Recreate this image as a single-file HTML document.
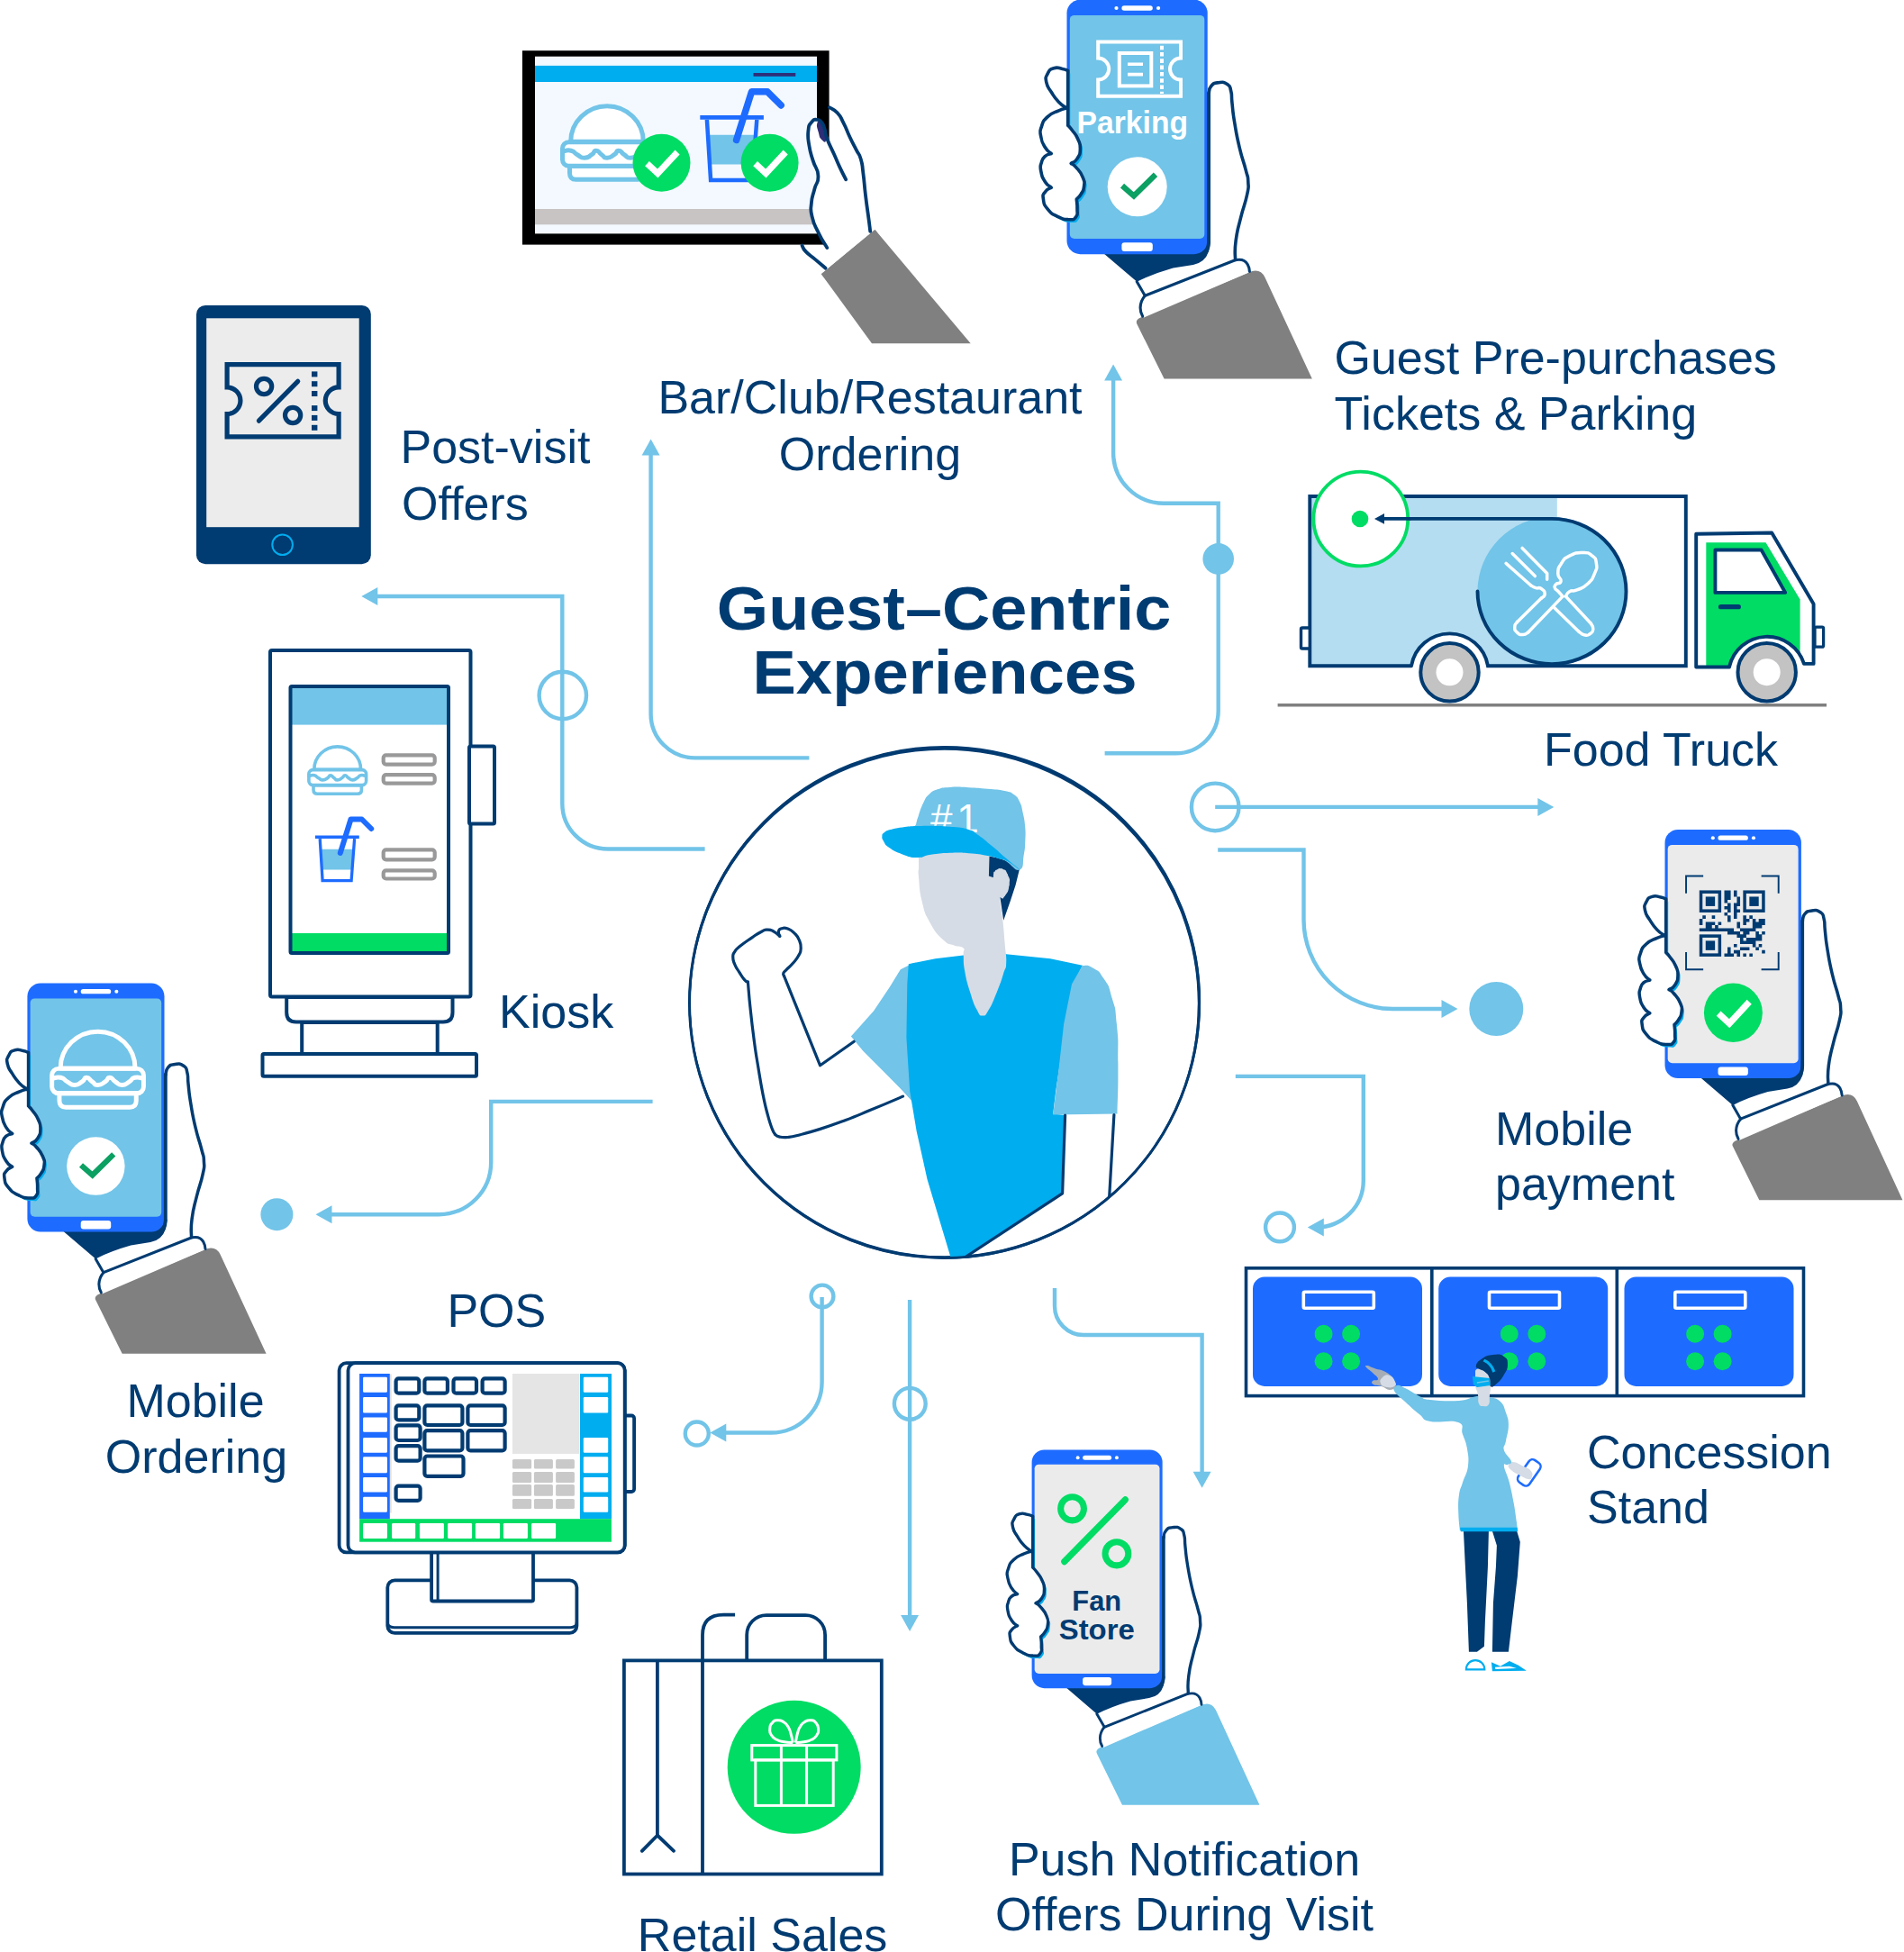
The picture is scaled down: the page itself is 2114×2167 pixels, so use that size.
<!DOCTYPE html>
<html><head><meta charset="utf-8"><title>Guest-Centric Experiences</title>
<style>
html,body{margin:0;padding:0;background:#fff;overflow:hidden;}
svg{display:block;}
text{font-family:"Liberation Sans",sans-serif;}
.lbl{font-size:52px;fill:#003B71;}
.ttl{font-size:69px;font-weight:bold;fill:#003B71;}
.cl{fill:none;stroke:#72C4E8;stroke-width:4.4;}
.nv{fill:none;stroke:#003B71;stroke-width:3.5;stroke-linejoin:round;stroke-linecap:round;}
</style></head><body>
<svg width="2114" height="2167" viewBox="0 0 2114 2167">
<g class="cl">
<path d="M415 662 H624.3 V891.9 A50.6 50.6 0 0 0 674.9 942.5 H782.6"/>
<circle cx="624.8" cy="772" r="26.2"/>
<path d="M722.6 500 V792.4 A49 49 0 0 0 771.6 841.4 H898.4"/>
<path d="M1236.1 418 V502.7 A56 56 0 0 0 1292.1 558.7 H1352.7 V789 A47.3 47.3 0 0 1 1305.4 836.3 H1226.6"/>
<path d="M1349.2 895.9 H1712"/>
<circle cx="1349.2" cy="895.9" r="26.3"/>
<path d="M1352.2 943.5 H1447.5 V1021 A99 99 0 0 0 1546.5 1120 H1605"/>
<path d="M1371.8 1194.9 H1513.8 V1310.4 A52 52 0 0 1 1461.8 1362.4"/>
<circle cx="1421" cy="1362.4" r="15.9"/>
<path d="M1171 1430 V1450 A32 32 0 0 0 1203 1482 H1334.6 V1637"/>
<path d="M1010.1 1443 V1797"/>
<circle cx="1010.3" cy="1558.3" r="17.4"/>
<path d="M912.6 1440 V1534 A56.5 56.5 0 0 1 856.1 1590.5 H802"/>
<circle cx="913" cy="1439" r="12.4"/>
<circle cx="773.8" cy="1591.5" r="13"/>
<path d="M724.6 1222.9 H545.2 V1290.2 A58 58 0 0 1 487.2 1348.2 H366"/>
</g>
<polygon points="401.3,662 419.3,652 419.3,672" fill="#72C4E8"/>
<polygon points="722.6,487.4 712.6,505.4 732.6,505.4" fill="#72C4E8"/>
<polygon points="1236.1,404.6 1226.1,422.6 1246.1,422.6" fill="#72C4E8"/>
<polygon points="1725.3,895.9 1707.3,885.9 1707.3,905.9" fill="#72C4E8"/>
<polygon points="1618.5,1120 1600.5,1110 1600.5,1130" fill="#72C4E8"/>
<polygon points="1451.8,1362.4 1469.8,1352.4 1469.8,1372.4" fill="#72C4E8"/>
<polygon points="1334.6,1651.8 1324.6,1633.8 1344.6,1633.8" fill="#72C4E8"/>
<polygon points="1010.1,1810.9 1000.1,1792.9 1020.1,1792.9" fill="#72C4E8"/>
<polygon points="788.3,1590.5 806.3,1580.5 806.3,1600.5" fill="#72C4E8"/>
<polygon points="350.5,1348.2 368.5,1338.2 368.5,1358.2" fill="#72C4E8"/>
<circle cx="1352.7" cy="620.4" r="17.3" fill="#72C4E8"/>
<circle cx="1661.3" cy="1120" r="30" fill="#72C4E8"/>
<circle cx="307.4" cy="1348.2" r="18" fill="#72C4E8"/>
<text class="lbl" x="444.5" y="514.2" text-anchor="start">Post-visit</text>
<text class="lbl" x="446" y="576.7" text-anchor="start">Offers</text>
<text class="lbl" x="966" y="459" text-anchor="middle">Bar/Club/Restaurant</text>
<text class="lbl" x="966" y="521.5" text-anchor="middle">Ordering</text>
<text class="lbl" x="1481.5" y="414.5" text-anchor="start">Guest Pre-purchases</text>
<text class="lbl" x="1481.5" y="477" text-anchor="start">Tickets &amp; Parking</text>
<text class="lbl" x="1714" y="850.3" text-anchor="start">Food Truck</text>
<text class="lbl" x="554" y="1141" text-anchor="start">Kiosk</text>
<text class="lbl" x="1660" y="1271" text-anchor="start">Mobile</text>
<text class="lbl" x="1660" y="1331.7" text-anchor="start">payment</text>
<text class="lbl" x="1762" y="1629.6" text-anchor="start">Concession</text>
<text class="lbl" x="1762" y="1690.8" text-anchor="start">Stand</text>
<text class="lbl" x="1315" y="2081.9" text-anchor="middle">Push Notification</text>
<text class="lbl" x="1315" y="2142.8" text-anchor="middle">Offers During Visit</text>
<text class="lbl" x="846.6" y="2166.4" text-anchor="middle">Retail Sales</text>
<text class="lbl" x="551.3" y="1473.2" text-anchor="middle">POS</text>
<text class="lbl" x="217" y="1573" text-anchor="middle">Mobile</text>
<text class="lbl" x="218" y="1634.8" text-anchor="middle">Ordering</text>
<text class="ttl" x="1048" y="698.5" text-anchor="middle" textLength="504.5" lengthAdjust="spacingAndGlyphs">Guest–Centric</text>
<text class="ttl" x="1049" y="770" text-anchor="middle" textLength="427" lengthAdjust="spacingAndGlyphs">Experiences</text>
<circle cx="1048.5" cy="1113.2" r="283" fill="#fff" stroke="#003B71" stroke-width="3"/>
<circle cx="1048.8" cy="1112.2" r="283.2" fill="none" stroke="#003B71" stroke-width="2.2"/>
<circle cx="1048.3" cy="1114.2" r="282.6" fill="none" stroke="#003B71" stroke-width="2.2"/>
<clipPath id="cc"><circle cx="1048.5" cy="1113.2" r="282"/></clipPath>
<g clip-path="url(#cc)">
<path d="M1014.7 1068.8 L999.8 1076.2 L988 1095.5 L970.1 1122.2 L944.9 1150.5 L958.3 1166.8 L982 1190.6 L999.8 1208.4 L1014.7 1224.7 L1014.7 1151.9 L1014.7 1092.5Z" fill="#72C4E8"/>
<path d="M1008.8 1070.2 L1038.5 1064.3 L1069.7 1060.4 L1117.2 1059.3 L1166.2 1064.3 L1201.9 1071.7 L1191.5 1092.5 L1181.1 1151.9 L1172.2 1211.4 L1169.2 1236.6 L1182.6 1238.1 L1179.6 1324.3 L1077.1 1392.6 L1056.3 1398.5 L1047.4 1368.8 L1029.6 1309.4 L1017.7 1255.9 L1010.2 1211.4 L1006.4 1151.9 L1007.3 1092.5Z" fill="#00ADEF"/>
<path d="M1201.9 1071.7 C1205.8 1072.7 1205.8 1069.7 1213.7 1074.7 C1221.7 1079.7 1218.7 1075.7 1225.6 1086.6 C1232.6 1097.5 1229.8 1090.5 1234.5 1107.4 C1239.3 1124.2 1237.6 1112.3 1239.9 1137.1 C1242.2 1161.8 1241.2 1148.5 1241.4 1181.7 C1241.6 1214.8 1240.8 1218.3 1240.5 1236.6 L1169.2 1237.5 L1175.1 1190.6 L1181.1 1137.1 L1190 1092.5Z" fill="#72C4E8"/>
<path d="M1020 964.8 C1020 967.2 1019.1 964.2 1020 973.7 C1021 983.2 1020.3 987 1023.6 1000.4 C1026.9 1013.9 1026.2 1012.7 1032.5 1024.2 C1038.9 1035.7 1040.2 1036.8 1047.4 1043.5 C1054.5 1050.2 1053.3 1047.1 1059.3 1049.4 C1065.2 1051.8 1066.9 1049.6 1069.7 1052.4 C1072.4 1055.2 1069.3 1053.1 1069.7 1059.8 C1070.1 1066.6 1069.2 1066.6 1071.1 1077.7 C1073.1 1088.8 1073.5 1090 1077.1 1101.4 C1080.7 1112.9 1080.8 1113.8 1084.5 1120.7 C1088.2 1127.7 1087.5 1127.6 1091.1 1127.6 C1094.6 1127.6 1093.7 1127.7 1097.9 1120.7 C1102.1 1113.8 1102.4 1112.1 1106.8 1101.4 C1111.2 1090.7 1111.5 1089.4 1114.2 1080.6 C1117 1071.9 1116.8 1077.5 1117.2 1068.8 C1117.6 1060 1116.7 1060.6 1115.7 1048 C1114.7 1035.3 1114.8 1035.1 1113.3 1021.2 C1111.9 1007.4 1109.7 1003.1 1110.4 996 C1111 988.8 1113.1 998.1 1115.7 994.5 C1118.3 990.9 1119.4 988.9 1120.2 982.6 C1121 976.3 1120.7 975.5 1118.7 970.7 C1116.7 966 1116.3 966 1112.7 964.8 C1109.2 963.6 1108.1 964.3 1105.3 966.3 C1102.5 968.2 1103.9 971 1102.3 972.2 C1100.8 973.4 1100.2 971.1 1099.4 970.7 L1098.5 938 L1020 938 Z" fill="#D5DCE5"/>
<path d="M1098.5 950.5 L1106.8 952.3 L1118.7 955.9 L1132 964.8 L1127.6 982.6 L1121.7 1000.4 L1114.2 1021.8 L1110.4 996 L1115.7 994.5 L1120.5 982.6 L1118.7 970.7 L1112.7 964.2 L1105.3 966 L1103.2 974.3 L1097.9 972.5Z" fill="#003B71"/>
<path d="M1110.4 996 C1114.3 998 1112.3 998.9 1115.7 994.5 C1119.1 990 1119.5 990.5 1120.5 982.6 C1121.5 974.7 1121.3 976.7 1118.7 970.7 C1116.1 964.8 1117 966.2 1112.7 964.8 C1108.5 963.4 1109.2 963.8 1105.9 966.6 C1102.6 969.3 1103.6 965.8 1102.9 973.1 C1102.2 980.4 1101.4 980.9 1103.8 988.5 C1106.3 996.2 1106.4 994 1110.4 996Z" fill="#D5DCE5"/>
<path d="M1014.6 927.2 C1001.9 923.9 1015.8 920.5 1017.2 914.6 C1018.6 908.7 1017.8 911.3 1019.9 905.2 C1022 899 1022 897.7 1025.1 891.5 C1028.2 885.4 1027.2 886.1 1031.4 882.1 C1035.6 878 1034.7 878.5 1040.9 876.3 C1047 874.1 1045.3 874.4 1054.5 873.9 C1063.8 873.3 1064.3 873.7 1075.5 874.2 C1086.8 874.7 1085.9 874.7 1096.6 875.8 C1107.2 876.8 1107.6 876.3 1115.5 878.1 C1123.3 879.8 1121.5 879 1126 882.3 C1130.4 885.6 1129.7 885.2 1132.3 890.5 C1134.8 895.7 1134.1 894.7 1135.6 902 C1137.2 909.3 1137.5 909.4 1138.2 917.8 C1138.9 926.2 1138.6 925.1 1138.3 933.5 C1137.9 941.9 1138.3 940.7 1136.7 949.3 C1135.1 957.8 1137.4 963.6 1132.3 965.6 C1127.2 967.5 1125.7 962.4 1117.6 956.6 C1109.4 950.9 1110.2 950.5 1101.8 944 C1093.4 937.6 1095.9 937 1086.1 932.5 C1076.2 928 1084.1 928.6 1065 927.2 C1046 925.8 1027.4 930.6 1014.6 927.2Z" fill="#72C4E8"/>
<text x="1032.9" y="924.3" font-size="44" fill="#fff" letter-spacing="5" style="font-family:'Liberation Sans',sans-serif">#1</text>
<path d="M979.4 928.3 C979.6 925.8 979.2 926.5 981.5 924.6 C983.9 922.7 982.9 922.8 988.4 921.1 C993.8 919.5 992.8 919.5 1002 918.4 C1011.3 917.3 1009 917.1 1023 916.9 C1037 916.8 1040.5 916.7 1054.5 917.8 C1068.5 918.8 1067.1 918.5 1075.5 920.9 C1083.9 923.4 1079 922 1086.1 927 C1093.1 932 1093.4 932.6 1101.8 939.6 C1110.2 946.6 1109.4 946.4 1117.6 953.3 C1125.7 960.2 1131.7 964.6 1132.3 965.6 C1132.8 966.5 1125.5 960.1 1119.7 956.8 C1113.8 953.6 1116.4 955.3 1110.2 953.5 C1104 951.6 1105.8 951.6 1096.6 949.9 C1087.3 948.2 1086.8 948.1 1075.5 947.2 C1064.3 946.3 1065.7 946.2 1054.5 946.7 C1043.3 947.1 1043.1 947.3 1033.5 948.8 C1024 950.2 1027.2 952.1 1018.8 952 C1010.4 951.9 1010.4 951.4 1002 948.4 C993.6 945.5 992.9 945 987.3 941.1 C981.7 937.2 983.1 937.2 981 933.7 C978.9 930.3 979.3 930.7 979.4 928.3Z" fill="#00ADEF"/>
</g>
<g class="nv" style="stroke-width:3.2" clip-path="url(#cc)">
<path d="M948.2 1156.3 L910.6 1182.8 L870.5 1083.3"/>
<path d="M870.5 1083.3 C870.3 1082.5 869 1082.6 869.8 1080.5 C870.7 1078.4 870.2 1079.7 873.3 1076.4 C876.4 1073.1 876.3 1074 880.2 1069.5 C884.1 1064.9 883.7 1066.1 886.4 1061.2 C889.1 1056.2 889 1058.3 889.2 1052.9 C889.4 1047.5 889.4 1048.4 887.1 1043.2 C884.8 1038 885.3 1039.2 881.6 1035.6 C877.8 1031.9 878.7 1032.5 874.7 1031 C870.6 1029.6 871.1 1029.8 868 1030.7 C865 1031.7 865.1 1031.6 864.4 1034.2 C863.8 1036.8 865.4 1037.8 865.8 1039.3"/>
<path d="M865.8 1039.3 C863.9 1037.8 863.4 1036.5 859.5 1034.3 C855.5 1032.2 856.7 1032.2 852.5 1032.1 C848.4 1032.1 851 1031.5 845.6 1034.2 C840.2 1036.9 841.6 1036.3 834.6 1041.1 C827.5 1045.9 827.7 1045.5 822.1 1050.1 C816.5 1054.7 818.4 1052.5 815.9 1056.3 C813.4 1060.1 813.8 1058.5 813.8 1062.8 C813.8 1067.2 813.8 1065.9 815.9 1070.8 C818 1075.7 817.6 1074.2 820.7 1079.1 C823.9 1084.1 823.4 1084.1 826.3 1087.4 C829.2 1090.8 829.2 1089.4 830.4 1090.2"/>
<path d="M830.4 1090.2 C831.2 1098.3 831.3 1103.3 833.2 1120.6 C835 1137.9 835.1 1138.6 837.3 1155.2 C839.5 1171.8 838.9 1167 841.5 1182.8 C844.1 1198.7 844.1 1199.9 847 1214.6 C850 1229.4 849.8 1227.8 852.5 1238.2 C855.3 1248.5 855.2 1247.7 857.4 1253.4 C859.5 1259 859.7 1257.7 860.6 1259.3"/>
<path d="M860.6 1259.3 C861.7 1260 861.2 1261.1 865 1261.9 C868.8 1262.8 868.4 1263.1 874.7 1262.5 C880.9 1261.9 878.9 1262.2 888.5 1259.7 C898.1 1257.3 897.3 1257.6 910.6 1253.4 C923.9 1249.1 923.5 1249.2 938.3 1243.7 C953 1238.2 948.8 1239.7 965.9 1232.6 C983.1 1225.5 992.8 1221.3 1002.6 1217.1"/>
<path d="M1182.6 1238.1 L1179.6 1324.8 L1072.6 1395"/>
<path d="M1236.9 1237.5 L1231.6 1330.2"/>
</g>
<rect x="1454.3" y="551" width="417.5" height="188.3" fill="#fff"/>
<rect x="1454.3" y="551" width="274.5" height="188.3" fill="#B4DDF1"/>
<circle cx="1723" cy="656.5" r="82.5" fill="#72C4E8"/>
<path d="M1567 741 A43.1 43.1 0 0 1 1652 741 Z" fill="#fff"/>
<path class="nv" style="stroke-width:3.9;stroke-linejoin:miter" d="M1567 739.3 H1454.3 V551 H1871.8 V739.3 H1652 A43.1 43.1 0 0 0 1567 739.3"/>
<path class="nv" style="stroke-width:3.9" d="M1534 575.9 H1723 A82.5 80.6 0 1 1 1640.5 656.5"/>
<polygon points="1526,575.9 1536,570.5 1536,581.3" fill="#003B71"/>
<circle cx="1510.8" cy="576" r="52.4" fill="#fff" stroke="#00DC64" stroke-width="3.8"/>
<circle cx="1510" cy="576" r="9.3" fill="#00DC64"/>
<path class="nv" style="stroke-width:3.9" d="M1565 575.9 H1534"/>
<polygon points="1526,575.9 1537,570 1537,581.8" fill="#003B71"/>
<rect class="nv" x="1444.5" y="697" width="9.8" height="23" rx="1.5" style="stroke-width:3.4;fill:#fff"/>
<path d="M1883.2 592.7 L1967.2 591.5 L2013.6 670.5 L2013.6 736.9 L2003 736.9 A43 43 0 0 0 1920 740.5 H1883.2 Z" fill="#fff"/>
<path d="M1894.3 602.3 L1960.5 602.3 L1998.6 665.6 L1998.6 739.6 L1894.3 739.6Z" fill="#00DC64"/>
<circle cx="1961.7" cy="747.5" r="41.3" fill="#fff"/>
<path class="nv" style="stroke-width:3.9" d="M1883.2 592.7 L1967.2 591.5 L2013.6 670.5 L2013.6 736.9 L2003 736.9 A43 43 0 0 0 1920 740.5 H1883.2 Z"/>
<path class="nv" style="stroke-width:3.9;fill:#fff" d="M1904.4 610.5 L1955.6 610.5 L1982.2 657.9 L1904.4 657.9Z"/>
<line x1="1910.5" y1="673.7" x2="1930.3" y2="673.7" stroke="#003B71" stroke-width="5.2" stroke-linecap="round"/>
<rect class="nv" x="2015" y="696.2" width="9.6" height="22" rx="1.5" style="stroke-width:3.2;fill:#fff"/>
<line x1="1418.6" y1="782.8" x2="2028" y2="782.8" stroke="#808080" stroke-width="3.6"/>
<circle cx="1609.5" cy="746.3" r="32.2" fill="#C3C3C3" stroke="#003B71" stroke-width="4"/>
<circle cx="1609.5" cy="746.3" r="15" fill="#fff"/>
<circle cx="1961.7" cy="746.2" r="32.2" fill="#C3C3C3" stroke="#003B71" stroke-width="4"/>
<circle cx="1961.7" cy="746.2" r="15" fill="#fff"/>
<g fill="none" stroke="#fff" stroke-width="3.5" stroke-linecap="round" stroke-linejoin="round">
<path d="M1672.1 625.4 L1699.6 649.8"/>
<path d="M1699.6 649.8 C1701.4 650.7 1701.4 651.4 1705.2 652.6 C1709 653.8 1707.6 651.1 1710.9 653.3 C1714.2 655.5 1715 655.6 1715.2 659.2 C1715.3 662.8 1712.6 662.5 1711.4 664.1"/>
<path d="M1711.4 664.1 L1684.6 690.4"/>
<path d="M1684.6 690.4 C1683.7 692.2 1681.8 692 1681.8 695.8 C1681.7 699.7 1681.3 699 1684.4 702 C1687.5 704.9 1687 704.6 1691 704.6 C1695.1 704.6 1694.8 702.8 1696.7 702"/>
<path d="M1696.7 702 L1735 662.1"/>
<path d="M1679.2 614.5 L1704.3 639.6"/>
<path d="M1690.1 608.4 L1717.7 636.5 L1717.7 643.3"/>
<path d="M1735 662.1 C1733.6 660.5 1732.8 659.5 1730.3 656.8 C1727.7 654 1727.4 655.4 1726.5 653 C1725.6 650.6 1725.5 651.1 1727.4 648.8 C1729.4 646.5 1732.4 648.9 1733.1 645.2 C1733.8 641.6 1729.7 642.7 1729.8 636.7 C1730 630.8 1729.6 631.3 1733.6 625.4 C1737.6 619.4 1736 620.4 1743 616.9 C1750.1 613.3 1749.9 613.6 1757.2 613.6 C1764.6 613.6 1763.1 613.3 1767.6 616.9 C1772.2 620.4 1771.5 619.4 1772.4 625.4 C1773.2 631.3 1773.3 629.9 1770.5 636.7 C1767.6 643.5 1768.6 642.7 1762.9 648.1 C1757.2 653.5 1757.6 652.1 1751.6 654.7 C1745.5 657.3 1746.5 654.6 1742.6 656.8 C1738.7 659 1739.7 660.5 1738.5 662.1"/>
<path d="M1738.5 662.1 L1766.5 692.3"/>
<path d="M1766.5 692.3 C1767.2 694.3 1769 694.5 1768.8 698.2 C1768.5 701.9 1768.8 701.1 1765.7 703.4 C1762.7 705.6 1763.8 705.7 1759.6 705 C1755.3 704.3 1755.2 702.5 1753 701.2"/>
<path d="M1753 701.2 L1725.6 674.5"/>
</g>
<rect x="579.9" y="56.2" width="340.7" height="215.4" fill="#000"/>
<rect x="594" y="62.7" width="313" height="196.7" fill="#F3F9FE"/>
<rect x="594" y="72.9" width="313" height="18.1" fill="#00ADEF"/>
<rect x="836.5" y="81" width="46.8" height="3.8" fill="#2E2E78"/>
<rect x="594" y="232" width="313" height="17.3" fill="#C8C4C4"/>
<path d="M633.7 157.2 A40.3 39.5 0 0 1 714.3 157.2 Z" fill="#fff" stroke="#72C4E8" stroke-width="5" stroke-linejoin="round"/>
<path d="M632.5 184.2 H715.5 V192.2 Q715.5 199.2 708.5 199.2 H639.5 Q632.5 199.2 632.5 192.2 Z" fill="#fff" stroke="#72C4E8" stroke-width="5" stroke-linejoin="round"/>
<rect x="624.5" y="157.7" width="99" height="26.5" rx="7" fill="#fff" stroke="#72C4E8" stroke-width="5" stroke-linejoin="round"/>
<path d="M625 168.2 C628 167.9 628.7 166 634 167.2 C639.3 168.4 636 169 641 171.7 C646 174.4 643.7 175.2 649 175.2 C654.3 175.2 652.7 174.4 657 171.7 C661.3 169 658.3 167.2 662 167.2 C665.7 167.2 664 169 668 171.7 C672 174.4 669.3 175.2 674 175.2 C678.7 175.2 677.7 174.4 682 171.7 C686.3 169 683.3 167.2 687 167.2 C690.7 167.2 688.7 169 693 171.7 C697.3 174.4 695 175.2 700 175.2 C705 175.2 703.3 174.4 708 171.7 C712.7 169 709 168.4 714 167.2 C719 166 720 167.9 723 168.2" fill="none" stroke="#72C4E8" stroke-width="5" stroke-linecap="round"/>
<polygon points="786.1,149.7 839.1,149.7 836.7,182.4 788.2,182.4" fill="#72C4E8"/>
<path d="M784.9 132.9 L789.1 200 L835.3 200 L840.3 132.9" fill="none" stroke="#1E6CFF" stroke-width="4.5" stroke-linejoin="miter"/>
<path d="M777.3 130.3 L847.9 130.3" fill="none" stroke="#1E6CFF" stroke-width="4.8"/>
<path d="M817.6 155.5 L834.5 101.8 L852.1 101.8 L867.2 116.9" fill="none" stroke="#1E6CFF" stroke-width="7.5" stroke-linecap="round" stroke-linejoin="round"/>
<circle cx="734.5" cy="180.8" r="32" fill="#00DC64"/><path d="M718.5 181.6 L730.3 192.5 L752.1 169" fill="none" stroke="#fff" stroke-width="7"/>
<circle cx="854.6" cy="180.8" r="32" fill="#00DC64"/><path d="M838.6 181.6 L850.4 192.5 L872.2 169" fill="none" stroke="#fff" stroke-width="7"/>
<polygon points="911.9,304.2 971.5,255.1 1077.7,381.3 968,381.3" fill="#808080"/>
<path d="M918.3 275.1 L908.8 258.5 L901.8 241.1 L900.9 225.4 L904.4 209.8 L908.4 195 L902.7 178.4 L898.3 161 L897.4 145.3 L900.9 135.8 L907 132.8 L912.2 135.8 L915.7 143.6 L921 157.5 L921 119.2 L929.7 125.3 L936.6 136.6 L943.6 152.3 L950.6 166.2 L955.8 176.7 L958.4 192.4 L961 216.7 L964.5 242.9 L966.6 258.5 L917.5 298.6 L905.3 288.1 L894.8 279.4 L890.5 272.5 L918.3 273.3Z" fill="#fff"/>
<polygon points="911.9,304.2 971.5,255.1 981.9,269 922.7,317.7" fill="#808080"/>
<path d="M907.4 136.6 C906.4 140.3 907.1 141 908.8 147.1 C910.4 153.2 909.5 152.1 912.2 154.9 C915 157.7 916.4 159.2 917.1 155.4 C917.8 151.7 916.2 150.1 914.3 143.6 C912.5 137.1 913.9 138.3 911.5 135.9 C909.2 133.6 908.3 132.9 907.4 136.6Z" fill="#2E2E78"/>
<g class="nv" style="stroke-width:3.8">
<path d="M918.3 275.1 C915.5 270.1 913.7 268.7 908.8 258.5 C903.8 248.3 904.1 251 901.8 241.1 C899.4 231.2 900.1 234.9 900.9 225.4 C901.7 216 902.2 218.9 904.4 209.8 C906.7 200.6 908.9 204.4 908.4 195 C907.9 185.6 905.7 188.6 902.7 178.4 C899.6 168.2 899.9 170.9 898.3 161 C896.7 151.1 896.7 152.9 897.4 145.3 C898.2 137.8 898.1 139.5 900.9 135.8 C903.8 132 903.6 132.8 907 132.8 C910.4 132.8 909.6 132.5 912.2 135.8 C914.9 139 913.9 138.1 915.7 143.6 C917.6 149.1 915.2 145.7 918.3 154 C921.5 162.4 921.7 161.5 926.2 171.5 C930.6 181.4 929.2 178.8 933.1 187.1 C937.1 195.5 937.4 195.7 939.2 199.3"/>
<path d="M921 119.2 C923.6 121 925 120.1 929.7 125.3 C934.4 130.5 932.4 128.5 936.6 136.6 C940.8 144.7 939.4 143.4 943.6 152.3 C947.8 161.2 946.9 158.9 950.6 166.2 C954.2 173.5 953.4 168.8 955.8 176.7 C958.1 184.5 956.8 180.3 958.4 192.4 C960 204.4 959.2 201.6 961 216.7 C962.8 231.9 962.9 230.8 964.5 242.9 C966.1 254.9 965.7 252.6 966.2 256.8"/>
<path d="M890.5 272.5 C891.8 274.6 890.4 274.7 894.8 279.4 C899.3 284.1 898.7 282.7 905.3 288.1 C911.8 293.6 913.2 294.8 916.6 297.7"/>
</g>
<rect x="218" y="338.9" width="193.8" height="287.3" rx="10" fill="#003B71"/>
<rect x="229.2" y="353.3" width="169.5" height="231.9" fill="#ECECEC"/>
<circle cx="313.6" cy="604.8" r="11.3" fill="none" stroke="#00ADEF" stroke-width="2"/>
<path d="M252.1 404.6 H376.1 V429.9 A14.8 14.8 0 0 0 376.1 459.6 V484.9 H252.1 V459.6 A14.8 14.8 0 0 0 252.1 429.9 Z" fill="none" stroke="#003B71" stroke-width="5.2" stroke-linejoin="miter"/>
<circle cx="293.1" cy="429" r="8.6" fill="none" stroke="#003B71" stroke-width="5.2"/>
<circle cx="325.1" cy="461" r="8.6" fill="none" stroke="#003B71" stroke-width="5.2"/>
<line x1="287.4" y1="467.2" x2="330.7" y2="423.3" stroke="#003B71" stroke-width="5.2" stroke-linecap="round"/>
<rect x="346" y="412.4" width="6.4" height="6" fill="#003B71"/>
<rect x="346" y="423.2" width="6.4" height="6" fill="#003B71"/>
<rect x="346" y="434" width="6.4" height="6" fill="#003B71"/>
<rect x="346" y="450.1" width="6.4" height="6" fill="#003B71"/>
<rect x="346" y="460.9" width="6.4" height="6" fill="#003B71"/>
<rect x="346" y="471.8" width="6.4" height="6" fill="#003B71"/>
<rect x="291.5" y="1170" width="237.5" height="24.8" rx="1.5" fill="#fff" stroke="#003B71" stroke-width="4" stroke-linejoin="round"/>
<rect x="335.2" y="1135" width="150.5" height="35" fill="#fff" stroke="#003B71" stroke-width="4" stroke-linejoin="round"/>
<path d="M318.2 1107 H502.5 V1124 Q502.5 1134.5 492 1134.5 H328.7 Q318.2 1134.5 318.2 1124 Z" fill="#fff" stroke="#003B71" stroke-width="4" stroke-linejoin="round"/>
<rect x="300" y="722" width="222.5" height="384.5" rx="2" fill="#fff" stroke="#003B71" stroke-width="4" stroke-linejoin="round"/>
<rect x="521" y="828.5" width="28" height="86" rx="1.5" fill="#fff" stroke="#003B71" stroke-width="4" stroke-linejoin="round"/>
<rect x="322.5" y="762" width="175.5" height="296" fill="#fff"/>
<rect x="322.5" y="762" width="175.5" height="42.6" fill="#72C4E8"/>
<rect x="322.5" y="1036" width="175.5" height="22" fill="#00DC64"/>
<rect x="322.5" y="762" width="175.5" height="296" rx="1.5" fill="none" stroke="#003B71" stroke-width="4" stroke-linejoin="round"/>
<path d="M348.8 854.3 A25.9 25.4 0 0 1 400.6 854.3 Z" fill="#fff" stroke="#72C4E8" stroke-width="3.6" stroke-linejoin="round"/>
<path d="M348 871.7 H401.4 V876.8 Q401.4 881.3 396.9 881.3 H352.5 Q348 881.3 348 876.8 Z" fill="#fff" stroke="#72C4E8" stroke-width="3.6" stroke-linejoin="round"/>
<rect x="342.9" y="854.6" width="63.7" height="17" rx="4.5" fill="#fff" stroke="#72C4E8" stroke-width="3.6" stroke-linejoin="round"/>
<path d="M343.2 861.4 C345.1 861.2 345.6 860 349 860.7 C352.4 861.5 350.3 861.9 353.5 863.6 C356.7 865.3 355.2 865.9 358.6 865.9 C362.1 865.9 361 865.3 363.8 863.6 C366.6 861.9 364.6 860.7 367 860.7 C369.3 860.7 368.3 861.9 370.8 863.6 C373.4 865.3 371.7 865.9 374.7 865.9 C377.7 865.9 377.1 865.3 379.8 863.6 C382.6 861.9 380.7 860.7 383.1 860.7 C385.4 860.7 384.1 861.9 386.9 863.6 C389.7 865.3 388.2 865.9 391.4 865.9 C394.6 865.9 393.6 865.3 396.6 863.6 C399.6 861.9 397.2 861.5 400.4 860.7 C403.6 860 404.3 861.2 406.2 861.4" fill="none" stroke="#72C4E8" stroke-width="3.6" stroke-linecap="round"/>
<polygon points="356,942.7 392.7,942.7 391.1,965.4 357.5,965.4" fill="#72C4E8"/>
<path d="M355.2 931.1 L358.1 977.6 L390.1 977.6 L393.6 931.1" fill="none" stroke="#1E6CFF" stroke-width="3.3" stroke-linejoin="miter"/>
<path d="M349.9 929.3 L398.8 929.3" fill="none" stroke="#1E6CFF" stroke-width="3.6"/>
<path d="M377.8 946.8 L389.5 909.5 L401.7 909.5 L412.2 920" fill="none" stroke="#1E6CFF" stroke-width="6" stroke-linecap="round" stroke-linejoin="round"/>
<rect x="425.7" y="838.3" width="57" height="10.3" rx="3" fill="#fff" stroke="#999" stroke-width="4.2"/>
<rect x="425.7" y="860.2" width="57" height="9.4" rx="3" fill="#fff" stroke="#999" stroke-width="4.2"/>
<rect x="425.7" y="943.3" width="57" height="11" rx="3" fill="#fff" stroke="#999" stroke-width="4.2"/>
<rect x="425.7" y="966.4" width="57" height="9.1" rx="3" fill="#fff" stroke="#999" stroke-width="4.2"/>
<rect x="430.3" y="1754.3" width="210.1" height="58.6" rx="8" fill="#fff" stroke="#003B71" stroke-width="3.8" stroke-linejoin="round"/>
<path d="M430.3 1800.6 Q430.3 1806.7 437.5 1806.7 H633.2 Q640.4 1806.7 640.4 1800.6" fill="none" stroke="#003B71" stroke-width="3"/>
<rect x="479.1" y="1717.4" width="112.9" height="60.1" rx="1.5" fill="#fff" stroke="#003B71" stroke-width="3.8" stroke-linejoin="round"/>
<line x1="486.1" y1="1725" x2="486.1" y2="1777.6" stroke="#003B71" stroke-width="3"/>
<rect x="689" y="1571.5" width="15.1" height="84.5" rx="3" fill="#fff" stroke="#003B71" stroke-width="3.8" stroke-linejoin="round"/>
<rect x="376.6" y="1513.2" width="317.1" height="210.2" rx="8" fill="#fff" stroke="#003B71" stroke-width="3.8" stroke-linejoin="round"/>
<rect x="386.5" y="1513.2" width="307.2" height="210.2" rx="8" fill="#fff" stroke="#003B71" stroke-width="3.8" stroke-linejoin="round"/>
<rect x="399.1" y="1525" width="33.7" height="161.3" fill="#1E6CFF"/>
<rect x="644" y="1525" width="35" height="161.3" fill="#00ADEF"/>
<rect x="568.9" y="1525" width="74.1" height="88.9" fill="#E5E5E5"/>
<rect x="399.1" y="1686.2" width="279.8" height="25.5" fill="#00DC64"/>
<line x1="433.9" y1="1525.5" x2="433.9" y2="1679.6" stroke="#BDBDBD" stroke-width="0.8"/>
<rect x="403.1" y="1528.7" width="26.8" height="17" rx="1.2" fill="#fff"/>
<rect x="647.8" y="1528.7" width="27.4" height="17" rx="1.2" fill="#fff"/>
<rect x="403.1" y="1551" width="26.8" height="17.4" rx="1.2" fill="#fff"/>
<rect x="647.8" y="1551" width="27.4" height="17.4" rx="1.2" fill="#fff"/>
<rect x="403.1" y="1573.4" width="26.8" height="16.4" rx="1.2" fill="#fff"/>
<rect x="403.1" y="1596" width="26.8" height="16.8" rx="1.2" fill="#fff"/>
<rect x="647.8" y="1596" width="27.4" height="16.8" rx="1.2" fill="#fff"/>
<rect x="403.1" y="1617.2" width="26.8" height="18" rx="1.2" fill="#fff"/>
<rect x="647.8" y="1617.2" width="27.4" height="18" rx="1.2" fill="#fff"/>
<rect x="403.1" y="1639.9" width="26.8" height="16.6" rx="1.2" fill="#fff"/>
<rect x="647.8" y="1639.9" width="27.4" height="16.6" rx="1.2" fill="#fff"/>
<rect x="403.1" y="1661.7" width="26.8" height="17" rx="1.2" fill="#fff"/>
<rect x="647.8" y="1661.7" width="27.4" height="17" rx="1.2" fill="#fff"/>
<rect x="403.1" y="1691" width="26.8" height="17" rx="1.2" fill="#fff"/>
<rect x="435.1" y="1691" width="26.1" height="17" rx="1.2" fill="#fff"/>
<rect x="465.9" y="1691" width="27" height="17" rx="1.2" fill="#fff"/>
<rect x="497.1" y="1691" width="27" height="17" rx="1.2" fill="#fff"/>
<rect x="527.9" y="1691" width="27.2" height="17" rx="1.2" fill="#fff"/>
<rect x="558.9" y="1691" width="27" height="17" rx="1.2" fill="#fff"/>
<rect x="590.1" y="1691" width="27" height="17" rx="1.2" fill="#fff"/>
<rect x="568.9" y="1620.1" width="21.2" height="10.4" rx="1.5" fill="#C9C9C9"/>
<rect x="568.9" y="1633.9" width="21.2" height="12.1" rx="1.5" fill="#C9C9C9"/>
<rect x="568.9" y="1648" width="21.2" height="12.7" rx="1.5" fill="#C9C9C9"/>
<rect x="568.9" y="1663.9" width="21.2" height="11" rx="1.5" fill="#C9C9C9"/>
<rect x="592.9" y="1620.1" width="21" height="10.4" rx="1.5" fill="#C9C9C9"/>
<rect x="592.9" y="1633.9" width="21" height="12.1" rx="1.5" fill="#C9C9C9"/>
<rect x="592.9" y="1648" width="21" height="12.7" rx="1.5" fill="#C9C9C9"/>
<rect x="592.9" y="1663.9" width="21" height="11" rx="1.5" fill="#C9C9C9"/>
<rect x="617.1" y="1620.1" width="20.8" height="10.4" rx="1.5" fill="#C9C9C9"/>
<rect x="617.1" y="1633.9" width="20.8" height="12.1" rx="1.5" fill="#C9C9C9"/>
<rect x="617.1" y="1648" width="20.8" height="12.7" rx="1.5" fill="#C9C9C9"/>
<rect x="617.1" y="1663.9" width="20.8" height="11" rx="1.5" fill="#C9C9C9"/>
<rect x="439.6" y="1530.4" width="25.7" height="16.3" rx="3" fill="#fff" stroke="#003B71" stroke-width="4.2"/>
<rect x="471.4" y="1530.4" width="25.5" height="16.3" rx="3" fill="#fff" stroke="#003B71" stroke-width="4.2"/>
<rect x="503.5" y="1530.4" width="25.5" height="16.3" rx="3" fill="#fff" stroke="#003B71" stroke-width="4.2"/>
<rect x="535.6" y="1530.4" width="25" height="16.3" rx="3" fill="#fff" stroke="#003B71" stroke-width="4.2"/>
<rect x="439.6" y="1560.3" width="25.7" height="16.1" rx="3" fill="#fff" stroke="#003B71" stroke-width="4.2"/>
<rect x="471.4" y="1560.3" width="42" height="21.7" rx="3" fill="#fff" stroke="#003B71" stroke-width="4.2"/>
<rect x="519.4" y="1560.3" width="41.2" height="21.7" rx="3" fill="#fff" stroke="#003B71" stroke-width="4.2"/>
<rect x="439.6" y="1582.4" width="27" height="16.6" rx="3" fill="#fff" stroke="#003B71" stroke-width="4.2"/>
<rect x="471.4" y="1588.1" width="42" height="22.3" rx="3" fill="#fff" stroke="#003B71" stroke-width="4.2"/>
<rect x="519.4" y="1588.1" width="41.2" height="22.3" rx="3" fill="#fff" stroke="#003B71" stroke-width="4.2"/>
<rect x="439.6" y="1605.1" width="27" height="16.6" rx="3" fill="#fff" stroke="#003B71" stroke-width="4.2"/>
<rect x="471.4" y="1616.5" width="43.1" height="22.3" rx="3" fill="#fff" stroke="#003B71" stroke-width="4.2"/>
<rect x="439.6" y="1649.6" width="27" height="16.3" rx="3" fill="#fff" stroke="#003B71" stroke-width="4.2"/>
<g fill="none" stroke="#003B71" stroke-width="3.8">
<path d="M829.2 1843 V1815 A21.8 21.8 0 0 1 851 1793.1 H894.3 A21.8 21.8 0 0 1 916.1 1815 V1843"/>
<path d="M780 2080.5 V1815.3 Q780 1792.6 803 1792.6 H816.1"/>
<rect x="692.9" y="1843.4" width="285.9" height="237.1" fill="none"/>
<path d="M729.9 1843.4 V2037.1" />
<path d="M712.8 2054.8 L729.9 2037.5 L748.1 2054.8" stroke-linecap="round" stroke-linejoin="round"/>
</g>
<circle cx="881.7" cy="1961.8" r="74" fill="#00DC64"/>
<g fill="none" stroke="#fff" stroke-width="3">
<rect x="834.8" y="1937.6" width="94.1" height="16.3"/>
<rect x="838.8" y="1953.9" width="86.4" height="50.5"/>
<path d="M867.4 1937.6 V2004.4 M895.6 1937.6 V2004.4"/>
<path d="M880.3 1934.6 C879.6 1931.6 879.6 1929.8 878 1924.5 C876.4 1919.2 877.4 1920.9 875 1917 C872.5 1913.1 873.4 1913.8 869.9 1911.6 C866.4 1909.4 867 1909.4 863.2 1909.7 C859.4 1910.1 859.8 1909.8 857.3 1912.8 C854.8 1915.7 855 1915.5 854.8 1919.5 C854.5 1923.5 854.2 1922.7 856.5 1926.2 C858.7 1929.7 858.1 1929 862.4 1931.3 C866.6 1933.5 865.4 1932.8 870.8 1933.8 C876.2 1934.8 877.5 1934.4 880.3 1934.6"/>
<path d="M883.4 1934.6 C884 1931.6 883.9 1929.8 885.4 1924.5 C886.9 1919.2 886 1920.9 888.4 1917 C890.8 1913.1 889.9 1913.8 893.4 1911.6 C897 1909.4 896.4 1909.4 900.2 1909.7 C903.9 1910.1 903.5 1909.8 906.1 1912.8 C908.6 1915.7 908.3 1915.5 908.6 1919.5 C908.8 1923.5 909.2 1922.7 906.9 1926.2 C904.6 1929.7 905.3 1929 901 1931.3 C896.7 1933.5 897.9 1932.8 892.6 1933.8 C887.3 1934.8 886.1 1934.4 883.4 1934.6"/>
</g>
<rect x="1383.5" y="1407.8" width="619" height="141.8" fill="#fff" stroke="#003B71" stroke-width="3.6"/>
<path d="M1589.8 1407.8 V1549.6 M1795.3 1407.8 V1549.6" fill="none" stroke="#003B71" stroke-width="3.6"/>
<rect x="1391" y="1417.6" width="188" height="121.3" rx="13" fill="#1E6CFF"/>
<rect x="1447.3" y="1434.2" width="78" height="18" rx="1.5" fill="none" stroke="#fff" stroke-width="3.6"/>
<circle cx="1469.6" cy="1480.7" r="10" fill="#00DC64"/>
<circle cx="1469.6" cy="1511.2" r="10" fill="#00DC64"/>
<circle cx="1500.1" cy="1480.7" r="10" fill="#00DC64"/>
<circle cx="1500.1" cy="1511.2" r="10" fill="#00DC64"/>
<rect x="1597.2" y="1417.6" width="188" height="121.3" rx="13" fill="#1E6CFF"/>
<rect x="1653.5" y="1434.2" width="78" height="18" rx="1.5" fill="none" stroke="#fff" stroke-width="3.6"/>
<circle cx="1675.8" cy="1480.7" r="10" fill="#00DC64"/>
<circle cx="1675.8" cy="1511.2" r="10" fill="#00DC64"/>
<circle cx="1706.3" cy="1480.7" r="10" fill="#00DC64"/>
<circle cx="1706.3" cy="1511.2" r="10" fill="#00DC64"/>
<rect x="1803.5" y="1417.6" width="188" height="121.3" rx="13" fill="#1E6CFF"/>
<rect x="1859.8" y="1434.2" width="78" height="18" rx="1.5" fill="none" stroke="#fff" stroke-width="3.6"/>
<circle cx="1882.1" cy="1480.7" r="10" fill="#00DC64"/>
<circle cx="1882.1" cy="1511.2" r="10" fill="#00DC64"/>
<circle cx="1912.6" cy="1480.7" r="10" fill="#00DC64"/>
<circle cx="1912.6" cy="1511.2" r="10" fill="#00DC64"/>
<path d="M1624.9 1698.8 L1652.9 1699.8 L1651.9 1739.8 L1648.9 1799.7 L1647.9 1827.7 L1639.9 1833.7 L1630.9 1833.7 L1628.9 1779.8 L1626.9 1739.8Z" fill="#003B71"/>
<path d="M1656.9 1699.8 L1683.9 1698.8 L1687.8 1711.8 L1684.9 1749.8 L1678.9 1799.7 L1674.9 1833.7 L1656.9 1833.7 L1657.9 1779.8 L1660.9 1739.8 L1661.9 1715.8Z" fill="#003B71"/>
<path d="M1627.9 1853.3 A10 10 0 0 1 1648.3 1853.3 Z" fill="#fff" stroke="#00ADEF" stroke-width="2.2"/>
<path d="M1655.9 1845.3 L1665.9 1849.7 L1675.9 1844.1 L1685.9 1848.7 L1694.8 1854.7 L1656.9 1855.3Z" fill="#00ADEF"/>
<path d="M1659.9 1850.7 L1675.9 1849.7 L1683.9 1852.1 L1660.3 1852.9Z" fill="#fff"/>
<rect x="1682.8" y="1627.4" width="30" height="15" rx="5" fill="none" stroke="#1E6CFF" stroke-width="2.6" transform="rotate(-55 1697.8 1634.9)"/>
<path d="M1674.9 1625.9 C1675.4 1623.5 1675.3 1622.4 1679.9 1622.9 C1684.4 1623.4 1686.5 1625.2 1691.8 1627.9 C1697.2 1630.5 1697.4 1629.7 1699.8 1632.9 C1702.2 1636.1 1701.6 1637.5 1700.8 1639.9 C1700 1642.3 1700.3 1642.4 1696.8 1641.9 C1693.4 1641.3 1692.9 1640.5 1687.8 1637.9 C1682.8 1635.2 1681.3 1635.1 1677.9 1631.9 C1674.4 1628.7 1674.3 1628.3 1674.9 1625.9Z" fill="#D5DCE5"/>
<path d="M1620.9 1699.2 C1620.5 1694.7 1619.5 1689 1619.3 1679.8 C1619.1 1670.7 1618.8 1667.8 1619.9 1659.9 C1621 1651.9 1621.6 1653.3 1623.9 1645.9 C1626.2 1638.4 1628.7 1636.7 1629.9 1627.9 C1631.1 1619 1630.3 1616.3 1628.9 1607.9 C1627.5 1599.5 1626.2 1598.7 1623.9 1591.9 C1621.6 1585.1 1627.3 1582.2 1618.9 1578.9 C1610.5 1575.7 1598 1580 1587.9 1577.9 C1577.9 1575.8 1582.5 1575.1 1575.9 1569.9 C1569.4 1564.8 1566.5 1562 1560 1555.9 C1553.4 1549.9 1550.1 1548.1 1548 1543.9 C1545.9 1539.8 1548.2 1538.7 1551 1538 C1553.8 1537.3 1554.1 1538.2 1560 1541 C1565.8 1543.7 1569.4 1546.9 1575.9 1549.9 C1582.5 1553 1577.7 1552.8 1587.9 1553.9 C1598.2 1555.1 1607.8 1555.9 1619.9 1554.9 C1632 1554 1632 1550.9 1639.9 1549.9 C1647.8 1549 1647.8 1549.5 1653.9 1550.9 C1659.9 1552.3 1661.7 1552 1665.9 1555.9 C1670.1 1559.9 1669.8 1561.9 1671.9 1567.9 C1674 1574 1674.9 1574.5 1674.9 1581.9 C1674.9 1589.4 1673 1593.4 1671.9 1599.9 C1670.7 1606.4 1668.5 1604.8 1669.9 1609.9 C1671.3 1615 1676.9 1618.2 1677.9 1621.9 C1678.8 1625.6 1675.7 1624.6 1673.9 1625.9 C1672 1627.2 1669.4 1622.8 1669.9 1627.5 C1670.3 1632.1 1673.3 1636 1675.9 1645.9 C1678.4 1655.8 1679 1659.6 1680.9 1669.8 C1682.7 1680.1 1682.9 1683 1683.9 1689.8 C1684.8 1696.7 1684.6 1697 1684.9 1699.2Z" fill="#72C4E8"/>
<path d="M1621.1 1695.8 L1684.7 1695.8 L1685.1 1700.2 L1621.9 1700.2Z" fill="#00ADEF"/>
<path d="M1639.9 1520 C1642.8 1518.6 1645.2 1520.3 1648.9 1523 C1652.6 1525.6 1652.3 1525.4 1653.9 1530 C1655.5 1534.5 1654.9 1534.6 1654.9 1540 C1654.9 1545.3 1654.4 1544.9 1653.9 1549.9 C1653.3 1555 1654.7 1556 1652.9 1558.9 C1651 1561.9 1649.8 1561.2 1646.9 1560.9 C1644 1560.7 1643.5 1561.4 1641.9 1557.9 C1640.3 1554.5 1642 1553.3 1640.9 1547.9 C1639.8 1542.6 1638.7 1543.3 1637.9 1538 C1637.1 1532.6 1637.4 1532.8 1637.9 1528 C1638.4 1523.2 1637 1521.3 1639.9 1520Z" fill="#D5DCE5"/>
<path d="M1638.9 1516 C1639.7 1512.8 1640.8 1511.2 1645.9 1508 C1650.9 1504.8 1651.5 1504.5 1657.9 1504 C1664.3 1503.4 1665.6 1503 1669.9 1506 C1674.1 1508.9 1673.9 1509.6 1673.9 1515 C1673.9 1520.3 1673.1 1520.4 1669.9 1526 C1666.7 1531.6 1665.9 1532.5 1661.9 1536 C1657.9 1539.4 1657 1540.6 1654.9 1539 C1652.7 1537.4 1655.5 1534.2 1653.9 1530 C1652.3 1525.7 1651.8 1525.6 1648.9 1523 C1645.9 1520.3 1645.6 1521.8 1642.9 1520 C1640.2 1518.1 1638.1 1519.2 1638.9 1516Z" fill="#003B71"/>
<path d="M1647.5 1510 C1649.7 1511.6 1650.5 1510.6 1654.3 1515 C1658.1 1519.3 1657.3 1520.3 1658.9 1523" fill="none" stroke="#00ADEF" stroke-width="3.2"/>
<path d="M1634.9 1528 L1653.9 1530 L1654.9 1538 L1639.9 1540 L1635.9 1537Z" fill="#00ADEF"/>
<path d="M1639.9 1535 L1652.9 1533" fill="none" stroke="#72C4E8" stroke-width="1.4"/>
<path d="M1518 1516 C1520.4 1516.2 1520.1 1516.8 1526 1519 C1531.8 1521.1 1534.1 1520.2 1540 1524 C1545.8 1527.7 1545.6 1529 1548 1533 C1550.4 1537 1550.3 1536.3 1549 1539 C1547.6 1541.6 1547 1542.9 1543 1542.9 C1539 1542.9 1538.8 1540.6 1534 1539 C1529.2 1537.4 1527.6 1538.6 1525 1537 C1522.3 1535.4 1522.6 1534.6 1524 1533 C1525.3 1531.4 1530 1533.4 1530 1531 C1530 1528.6 1527.4 1527.4 1524 1524 C1520.5 1520.5 1518.6 1520.1 1517 1518 C1515.4 1515.8 1515.6 1515.7 1518 1516Z" fill="#A6ADB5"/>
<path d="M1535 1529 C1537.6 1526.6 1539.2 1525.6 1543 1527 C1546.7 1528.3 1547.6 1530.8 1549 1534 C1550.3 1537.2 1550.4 1537.4 1548 1539 C1545.6 1540.6 1544 1540.8 1540 1540 C1536 1539.2 1534.3 1538.9 1533 1536 C1531.6 1533 1532.3 1531.4 1535 1529Z" fill="#D5DCE5"/>
<g transform="translate(1184.5 0) scale(1 1) translate(-1184.5 0)">
<path d="M1266.5 352.6 L1386.4 302.4 Q1399 297 1404.5 308 L1456.8 420.6 H1292.6 L1262.5 360 Q1260 355.5 1266.5 352.6 Z" fill="#808080"/>
<path d="M1342.1 104 C1342.9 101.5 1341.5 99.2 1344.8 95.5 C1348.1 91.8 1347.7 92.3 1353 91.7 C1358.3 91.1 1358.5 90.7 1362.6 93.5 C1366.7 96.3 1365.1 94.7 1366.7 101 C1368.3 107.3 1366.8 103.9 1368 114.6 C1369.2 125.2 1368.3 121.7 1370.8 136.5 C1373.3 151.3 1372.5 148.2 1376.2 163.8 C1379.9 179.4 1380.2 176.9 1383.1 188.4 C1386 199.9 1385.4 193.4 1385.8 202 C1386.2 210.6 1386.9 205.1 1384.4 217 C1381.9 228.9 1381.3 226.4 1377.6 241.6 C1373.9 256.8 1373.9 253.5 1372.1 267.6 C1370.3 281.7 1371.7 282.2 1371.5 288.5 L1369 290 L1300 310 L1300 104 Z" fill="#fff"/>
<path class="nv" style="stroke-width:3.6" d="M1342.1 104 C1342.9 101.5 1341.5 99.2 1344.8 95.5 C1348.1 91.8 1347.7 92.3 1353 91.7 C1358.3 91.1 1358.5 90.7 1362.6 93.5 C1366.7 96.3 1365.1 94.7 1366.7 101 C1368.3 107.3 1366.8 103.9 1368 114.6 C1369.2 125.2 1368.3 121.7 1370.8 136.5 C1373.3 151.3 1372.5 148.2 1376.2 163.8 C1379.9 179.4 1380.2 176.9 1383.1 188.4 C1386 199.9 1385.4 193.4 1385.8 202 C1386.2 210.6 1386.9 205.1 1384.4 217 C1381.9 228.9 1381.3 226.4 1377.6 241.6 C1373.9 256.8 1373.9 253.5 1372.1 267.6 C1370.3 281.7 1371.7 282.2 1371.5 288.5"/>
<path d="M1262.3 312.7 L1369.5 289.5 Q1381 285.5 1385.8 294 Q1387.5 297.5 1387.6 302 L1270 352.5 Q1266 346 1266.1 341 Q1266.3 334 1271.3 328.3 Z" fill="#fff"/>
<path d="M1225 281 L1262.3 312.7 Q1280.2 303.8 1302.5 297.5 L1324.8 293.9 Q1338 291.5 1342 279 L1344 268.9 L1340 262 H1300 Z" fill="#003B71"/>
<g class="nv" style="stroke-width:3.1">
<path d="M1262.3 312.7 L1271.3 328.3 L1369.5 289.5 Q1380.5 285.8 1385.2 293.5 Q1387.2 297 1387.4 301.5"/>
<path d="M1271.3 328.3 Q1266.3 334 1266.1 341.5 Q1266 346.5 1268.6 351"/>
</g>
<rect x="1184.5" y="-0.4" width="156.2" height="282.6" rx="15" fill="#1E6CFF"/>
<rect x="1187.8" y="16.9" width="149.5" height="248" rx="5" fill="#72C4E8"/>
<rect x="1245.4" y="6.3" width="34.4" height="5.4" rx="2.7" fill="#fff"/>
<circle cx="1239.5" cy="9" r="2.1" fill="#fff"/><circle cx="1286.1" cy="9" r="2.1" fill="#fff"/>
<rect x="1245.4" y="269.3" width="34.4" height="9.7" rx="3" fill="#fff"/>
<path class="nv" style="stroke-width:3.9" d="M1342.05 103 V268 Q1342 280 1334 286"/>
<g fill="none" stroke="#fff" stroke-width="4">
<path d="M1219.2 46.4 H1311 V64.6 A12 12 0 0 0 1311 88.6 V106.8 H1219.2 V88.6 A12 12 0 0 0 1219.2 64.6 Z" stroke-linejoin="miter"/>
<rect x="1242.8" y="59" width="35.5" height="36.4"/>
<path d="M1252.1 71.2 H1269 M1252.1 82.6 H1269" stroke-width="3.6"/>
<path d="M1290 50.7 V104" stroke-dasharray="4.6 2.7"/>
</g>
<text x="1257.3" y="148" text-anchor="middle" font-size="35" font-weight="bold" fill="#fff" textLength="123.5" lengthAdjust="spacingAndGlyphs">Parking</text>
<circle cx="1262.7" cy="207.3" r="33" fill="#fff"/>
<path d="M1246 206.2 L1258.9 217.5 L1283 193.8" fill="none" stroke="#0CA063" stroke-width="6.3"/>
<path d="M1185.7 78.4 C1183.9 77.8 1184.3 77.2 1179.6 76.4 C1174.9 75.6 1175 74.1 1170 75.7 C1165.1 77.3 1165.7 77.1 1163.2 81.8 C1160.8 86.6 1160.6 85.3 1161.8 91.4 C1163.1 97.6 1163.2 95.8 1167.3 102.3 C1171.4 108.9 1170.4 107.9 1175.5 113.3 C1180.6 118.6 1181.7 118 1184.4 120.1 C1181.7 120.9 1181.9 119.9 1175.5 122.8 C1169.2 125.7 1168.9 124.3 1163.2 129.6 C1157.5 135 1158.6 134 1156.4 140.6 C1154.1 147.1 1154.5 144.5 1155.7 151.5 C1156.9 158.5 1157 158 1160.5 163.8 C1164 169.5 1165.3 168.6 1167.3 170.6 C1165.3 171.4 1163.8 170.5 1160.5 173.3 C1157.2 176.2 1157.8 175.3 1156.4 180.2 C1155 185.1 1154.5 183.2 1155.7 189.7 C1156.9 196.3 1157 196.5 1160.5 202 C1164 207.5 1165.3 206.3 1167.3 208.2 C1165.3 209.6 1163.1 209.1 1160.5 212.9 C1157.8 216.8 1157.6 215.4 1158.4 221.1 C1159.3 226.9 1158.5 226.3 1163.2 232.1 C1167.9 237.8 1167.2 236.8 1174.1 240.3 C1181.1 243.7 1180.3 243.5 1186.4 243.7 C1192.6 243.9 1191.8 244.4 1194.6 240.9 C1197.5 237.5 1195.8 238 1196 232.1 C1196.2 226.1 1195.5 224.4 1195.3 221.1 C1196.7 219.5 1197.6 219.8 1200.1 215.7 C1202.5 211.6 1202.9 213.2 1203.5 207.5 C1204.1 201.7 1204.8 203.1 1202.1 196.6 C1199.5 190 1198.5 190.1 1194.6 185.6 C1190.7 181.1 1190.8 182.8 1189.2 181.5 C1191.2 179.9 1192.9 181 1196 176.1 C1199.1 171.2 1199.2 171.7 1199.4 165.1 C1199.6 158.6 1199.3 160.4 1196.7 154.2 C1194 148.1 1193.8 149.2 1190.5 144.7 C1187.2 140.2 1187.2 140.8 1185.7 139.2 Z" fill="#00ADEF" transform="translate(2.6 3.2)"/>
<path d="M1185.7 78.4 C1183.9 77.8 1184.3 77.2 1179.6 76.4 C1174.9 75.6 1175 74.1 1170 75.7 C1165.1 77.3 1165.7 77.1 1163.2 81.8 C1160.8 86.6 1160.6 85.3 1161.8 91.4 C1163.1 97.6 1163.2 95.8 1167.3 102.3 C1171.4 108.9 1170.4 107.9 1175.5 113.3 C1180.6 118.6 1181.7 118 1184.4 120.1 C1181.7 120.9 1181.9 119.9 1175.5 122.8 C1169.2 125.7 1168.9 124.3 1163.2 129.6 C1157.5 135 1158.6 134 1156.4 140.6 C1154.1 147.1 1154.5 144.5 1155.7 151.5 C1156.9 158.5 1157 158 1160.5 163.8 C1164 169.5 1165.3 168.6 1167.3 170.6 C1165.3 171.4 1163.8 170.5 1160.5 173.3 C1157.2 176.2 1157.8 175.3 1156.4 180.2 C1155 185.1 1154.5 183.2 1155.7 189.7 C1156.9 196.3 1157 196.5 1160.5 202 C1164 207.5 1165.3 206.3 1167.3 208.2 C1165.3 209.6 1163.1 209.1 1160.5 212.9 C1157.8 216.8 1157.6 215.4 1158.4 221.1 C1159.3 226.9 1158.5 226.3 1163.2 232.1 C1167.9 237.8 1167.2 236.8 1174.1 240.3 C1181.1 243.7 1180.3 243.5 1186.4 243.7 C1192.6 243.9 1191.8 244.4 1194.6 240.9 C1197.5 237.5 1195.8 238 1196 232.1 C1196.2 226.1 1195.5 224.4 1195.3 221.1 C1196.7 219.5 1197.6 219.8 1200.1 215.7 C1202.5 211.6 1202.9 213.2 1203.5 207.5 C1204.1 201.7 1204.8 203.1 1202.1 196.6 C1199.5 190 1198.5 190.1 1194.6 185.6 C1190.7 181.1 1190.8 182.8 1189.2 181.5 C1191.2 179.9 1192.9 181 1196 176.1 C1199.1 171.2 1199.2 171.7 1199.4 165.1 C1199.6 158.6 1199.3 160.4 1196.7 154.2 C1194 148.1 1193.8 149.2 1190.5 144.7 C1187.2 140.2 1187.2 140.8 1185.7 139.2 Z" fill="#fff"/>
<path class="nv" style="stroke-width:3.6" d="M1185.7 78.4 C1183.9 77.8 1184.3 77.2 1179.6 76.4 C1174.9 75.6 1175 74.1 1170 75.7 C1165.1 77.3 1165.7 77.1 1163.2 81.8 C1160.8 86.6 1160.6 85.3 1161.8 91.4 C1163.1 97.6 1163.2 95.8 1167.3 102.3 C1171.4 108.9 1170.4 107.9 1175.5 113.3 C1180.6 118.6 1181.7 118 1184.4 120.1 C1181.7 120.9 1181.9 119.9 1175.5 122.8 C1169.2 125.7 1168.9 124.3 1163.2 129.6 C1157.5 135 1158.6 134 1156.4 140.6 C1154.1 147.1 1154.5 144.5 1155.7 151.5 C1156.9 158.5 1157 158 1160.5 163.8 C1164 169.5 1165.3 168.6 1167.3 170.6 C1165.3 171.4 1163.8 170.5 1160.5 173.3 C1157.2 176.2 1157.8 175.3 1156.4 180.2 C1155 185.1 1154.5 183.2 1155.7 189.7 C1156.9 196.3 1157 196.5 1160.5 202 C1164 207.5 1165.3 206.3 1167.3 208.2 C1165.3 209.6 1163.1 209.1 1160.5 212.9 C1157.8 216.8 1157.6 215.4 1158.4 221.1 C1159.3 226.9 1158.5 226.3 1163.2 232.1 C1167.9 237.8 1167.2 236.8 1174.1 240.3 C1181.1 243.7 1180.3 243.5 1186.4 243.7 C1192.6 243.9 1191.8 244.4 1194.6 240.9 C1197.5 237.5 1195.8 238 1196 232.1 C1196.2 226.1 1195.5 224.4 1195.3 221.1 C1196.7 219.5 1197.6 219.8 1200.1 215.7 C1202.5 211.6 1202.9 213.2 1203.5 207.5 C1204.1 201.7 1204.8 203.1 1202.1 196.6 C1199.5 190 1198.5 190.1 1194.6 185.6 C1190.7 181.1 1190.8 182.8 1189.2 181.5 C1191.2 179.9 1192.9 181 1196 176.1 C1199.1 171.2 1199.2 171.7 1199.4 165.1 C1199.6 158.6 1199.3 160.4 1196.7 154.2 C1194 148.1 1193.8 149.2 1190.5 144.7 C1187.2 140.2 1187.2 140.8 1185.7 139.2 Z"/>
</g>
<g transform="translate(30.4 1091.9) scale(0.9738 0.977) translate(-1184.5 0)">
<path d="M1266.5 352.6 L1386.4 302.4 Q1399 297 1404.5 308 L1456.8 420.6 H1292.6 L1262.5 360 Q1260 355.5 1266.5 352.6 Z" fill="#808080"/>
<path d="M1342.1 104 C1342.9 101.5 1341.5 99.2 1344.8 95.5 C1348.1 91.8 1347.7 92.3 1353 91.7 C1358.3 91.1 1358.5 90.7 1362.6 93.5 C1366.7 96.3 1365.1 94.7 1366.7 101 C1368.3 107.3 1366.8 103.9 1368 114.6 C1369.2 125.2 1368.3 121.7 1370.8 136.5 C1373.3 151.3 1372.5 148.2 1376.2 163.8 C1379.9 179.4 1380.2 176.9 1383.1 188.4 C1386 199.9 1385.4 193.4 1385.8 202 C1386.2 210.6 1386.9 205.1 1384.4 217 C1381.9 228.9 1381.3 226.4 1377.6 241.6 C1373.9 256.8 1373.9 253.5 1372.1 267.6 C1370.3 281.7 1371.7 282.2 1371.5 288.5 L1369 290 L1300 310 L1300 104 Z" fill="#fff"/>
<path class="nv" style="stroke-width:3.6" d="M1342.1 104 C1342.9 101.5 1341.5 99.2 1344.8 95.5 C1348.1 91.8 1347.7 92.3 1353 91.7 C1358.3 91.1 1358.5 90.7 1362.6 93.5 C1366.7 96.3 1365.1 94.7 1366.7 101 C1368.3 107.3 1366.8 103.9 1368 114.6 C1369.2 125.2 1368.3 121.7 1370.8 136.5 C1373.3 151.3 1372.5 148.2 1376.2 163.8 C1379.9 179.4 1380.2 176.9 1383.1 188.4 C1386 199.9 1385.4 193.4 1385.8 202 C1386.2 210.6 1386.9 205.1 1384.4 217 C1381.9 228.9 1381.3 226.4 1377.6 241.6 C1373.9 256.8 1373.9 253.5 1372.1 267.6 C1370.3 281.7 1371.7 282.2 1371.5 288.5"/>
<path d="M1262.3 312.7 L1369.5 289.5 Q1381 285.5 1385.8 294 Q1387.5 297.5 1387.6 302 L1270 352.5 Q1266 346 1266.1 341 Q1266.3 334 1271.3 328.3 Z" fill="#fff"/>
<path d="M1225 281 L1262.3 312.7 Q1280.2 303.8 1302.5 297.5 L1324.8 293.9 Q1338 291.5 1342 279 L1344 268.9 L1340 262 H1300 Z" fill="#003B71"/>
<g class="nv" style="stroke-width:3.1">
<path d="M1262.3 312.7 L1271.3 328.3 L1369.5 289.5 Q1380.5 285.8 1385.2 293.5 Q1387.2 297 1387.4 301.5"/>
<path d="M1271.3 328.3 Q1266.3 334 1266.1 341.5 Q1266 346.5 1268.6 351"/>
</g>
<rect x="1184.5" y="-0.4" width="156.2" height="282.6" rx="15" fill="#1E6CFF"/>
<rect x="1187.8" y="16.9" width="149.5" height="248" rx="5" fill="#72C4E8"/>
<rect x="1245.4" y="6.3" width="34.4" height="5.4" rx="2.7" fill="#fff"/>
<circle cx="1239.5" cy="9" r="2.1" fill="#fff"/><circle cx="1286.1" cy="9" r="2.1" fill="#fff"/>
<rect x="1245.4" y="269.3" width="34.4" height="9.7" rx="3" fill="#fff"/>
<path class="nv" style="stroke-width:3.9" d="M1342.05 103 V268 Q1342 280 1334 286"/>
<path d="M1222.2 96.2 A42.6 41.7 0 0 1 1307.4 96.2 Z" fill="none" stroke="#fff" stroke-width="5.1" stroke-linejoin="round"/>
<path d="M1221 124.7 H1308.6 V133.2 Q1308.6 140.6 1301.2 140.6 H1228.4 Q1221 140.6 1221 133.2 Z" fill="none" stroke="#fff" stroke-width="5.1" stroke-linejoin="round"/>
<rect x="1212.5" y="96.7" width="104.5" height="28" rx="7.4" fill="none" stroke="#fff" stroke-width="5.1" stroke-linejoin="round"/>
<path d="M1213.1 107.8 C1216.2 107.5 1216.9 105.5 1222.6 106.8 C1228.2 108 1224.7 108.7 1230 111.5 C1235.2 114.3 1232.8 115.2 1238.4 115.2 C1244 115.2 1242.3 114.3 1246.8 111.5 C1251.4 108.7 1248.3 106.8 1252.1 106.8 C1256 106.8 1254.2 108.7 1258.5 111.5 C1262.7 114.3 1259.9 115.2 1264.8 115.2 C1269.7 115.2 1268.7 114.3 1273.2 111.5 C1277.8 108.7 1274.7 106.8 1278.5 106.8 C1282.4 106.8 1280.3 108.7 1284.9 111.5 C1289.4 114.3 1287 115.2 1292.3 115.2 C1297.5 115.2 1295.8 114.3 1300.7 111.5 C1305.6 108.7 1301.8 108 1307 106.8 C1312.3 105.5 1313.4 107.5 1316.5 107.8" fill="none" stroke="#fff" stroke-width="5.1" stroke-linecap="round"/><circle cx="1262.5" cy="207.4" r="33.1" fill="#fff"/><path d="M1245.7 206.3 L1258.7 217.6 L1282.9 193.9" fill="none" stroke="#0CA063" stroke-width="6.3"/>
<path d="M1185.7 78.4 C1183.9 77.8 1184.3 77.2 1179.6 76.4 C1174.9 75.6 1175 74.1 1170 75.7 C1165.1 77.3 1165.7 77.1 1163.2 81.8 C1160.8 86.6 1160.6 85.3 1161.8 91.4 C1163.1 97.6 1163.2 95.8 1167.3 102.3 C1171.4 108.9 1170.4 107.9 1175.5 113.3 C1180.6 118.6 1181.7 118 1184.4 120.1 C1181.7 120.9 1181.9 119.9 1175.5 122.8 C1169.2 125.7 1168.9 124.3 1163.2 129.6 C1157.5 135 1158.6 134 1156.4 140.6 C1154.1 147.1 1154.5 144.5 1155.7 151.5 C1156.9 158.5 1157 158 1160.5 163.8 C1164 169.5 1165.3 168.6 1167.3 170.6 C1165.3 171.4 1163.8 170.5 1160.5 173.3 C1157.2 176.2 1157.8 175.3 1156.4 180.2 C1155 185.1 1154.5 183.2 1155.7 189.7 C1156.9 196.3 1157 196.5 1160.5 202 C1164 207.5 1165.3 206.3 1167.3 208.2 C1165.3 209.6 1163.1 209.1 1160.5 212.9 C1157.8 216.8 1157.6 215.4 1158.4 221.1 C1159.3 226.9 1158.5 226.3 1163.2 232.1 C1167.9 237.8 1167.2 236.8 1174.1 240.3 C1181.1 243.7 1180.3 243.5 1186.4 243.7 C1192.6 243.9 1191.8 244.4 1194.6 240.9 C1197.5 237.5 1195.8 238 1196 232.1 C1196.2 226.1 1195.5 224.4 1195.3 221.1 C1196.7 219.5 1197.6 219.8 1200.1 215.7 C1202.5 211.6 1202.9 213.2 1203.5 207.5 C1204.1 201.7 1204.8 203.1 1202.1 196.6 C1199.5 190 1198.5 190.1 1194.6 185.6 C1190.7 181.1 1190.8 182.8 1189.2 181.5 C1191.2 179.9 1192.9 181 1196 176.1 C1199.1 171.2 1199.2 171.7 1199.4 165.1 C1199.6 158.6 1199.3 160.4 1196.7 154.2 C1194 148.1 1193.8 149.2 1190.5 144.7 C1187.2 140.2 1187.2 140.8 1185.7 139.2 Z" fill="#00ADEF" transform="translate(2.6 3.2)"/>
<path d="M1185.7 78.4 C1183.9 77.8 1184.3 77.2 1179.6 76.4 C1174.9 75.6 1175 74.1 1170 75.7 C1165.1 77.3 1165.7 77.1 1163.2 81.8 C1160.8 86.6 1160.6 85.3 1161.8 91.4 C1163.1 97.6 1163.2 95.8 1167.3 102.3 C1171.4 108.9 1170.4 107.9 1175.5 113.3 C1180.6 118.6 1181.7 118 1184.4 120.1 C1181.7 120.9 1181.9 119.9 1175.5 122.8 C1169.2 125.7 1168.9 124.3 1163.2 129.6 C1157.5 135 1158.6 134 1156.4 140.6 C1154.1 147.1 1154.5 144.5 1155.7 151.5 C1156.9 158.5 1157 158 1160.5 163.8 C1164 169.5 1165.3 168.6 1167.3 170.6 C1165.3 171.4 1163.8 170.5 1160.5 173.3 C1157.2 176.2 1157.8 175.3 1156.4 180.2 C1155 185.1 1154.5 183.2 1155.7 189.7 C1156.9 196.3 1157 196.5 1160.5 202 C1164 207.5 1165.3 206.3 1167.3 208.2 C1165.3 209.6 1163.1 209.1 1160.5 212.9 C1157.8 216.8 1157.6 215.4 1158.4 221.1 C1159.3 226.9 1158.5 226.3 1163.2 232.1 C1167.9 237.8 1167.2 236.8 1174.1 240.3 C1181.1 243.7 1180.3 243.5 1186.4 243.7 C1192.6 243.9 1191.8 244.4 1194.6 240.9 C1197.5 237.5 1195.8 238 1196 232.1 C1196.2 226.1 1195.5 224.4 1195.3 221.1 C1196.7 219.5 1197.6 219.8 1200.1 215.7 C1202.5 211.6 1202.9 213.2 1203.5 207.5 C1204.1 201.7 1204.8 203.1 1202.1 196.6 C1199.5 190 1198.5 190.1 1194.6 185.6 C1190.7 181.1 1190.8 182.8 1189.2 181.5 C1191.2 179.9 1192.9 181 1196 176.1 C1199.1 171.2 1199.2 171.7 1199.4 165.1 C1199.6 158.6 1199.3 160.4 1196.7 154.2 C1194 148.1 1193.8 149.2 1190.5 144.7 C1187.2 140.2 1187.2 140.8 1185.7 139.2 Z" fill="#fff"/>
<path class="nv" style="stroke-width:3.6" d="M1185.7 78.4 C1183.9 77.8 1184.3 77.2 1179.6 76.4 C1174.9 75.6 1175 74.1 1170 75.7 C1165.1 77.3 1165.7 77.1 1163.2 81.8 C1160.8 86.6 1160.6 85.3 1161.8 91.4 C1163.1 97.6 1163.2 95.8 1167.3 102.3 C1171.4 108.9 1170.4 107.9 1175.5 113.3 C1180.6 118.6 1181.7 118 1184.4 120.1 C1181.7 120.9 1181.9 119.9 1175.5 122.8 C1169.2 125.7 1168.9 124.3 1163.2 129.6 C1157.5 135 1158.6 134 1156.4 140.6 C1154.1 147.1 1154.5 144.5 1155.7 151.5 C1156.9 158.5 1157 158 1160.5 163.8 C1164 169.5 1165.3 168.6 1167.3 170.6 C1165.3 171.4 1163.8 170.5 1160.5 173.3 C1157.2 176.2 1157.8 175.3 1156.4 180.2 C1155 185.1 1154.5 183.2 1155.7 189.7 C1156.9 196.3 1157 196.5 1160.5 202 C1164 207.5 1165.3 206.3 1167.3 208.2 C1165.3 209.6 1163.1 209.1 1160.5 212.9 C1157.8 216.8 1157.6 215.4 1158.4 221.1 C1159.3 226.9 1158.5 226.3 1163.2 232.1 C1167.9 237.8 1167.2 236.8 1174.1 240.3 C1181.1 243.7 1180.3 243.5 1186.4 243.7 C1192.6 243.9 1191.8 244.4 1194.6 240.9 C1197.5 237.5 1195.8 238 1196 232.1 C1196.2 226.1 1195.5 224.4 1195.3 221.1 C1196.7 219.5 1197.6 219.8 1200.1 215.7 C1202.5 211.6 1202.9 213.2 1203.5 207.5 C1204.1 201.7 1204.8 203.1 1202.1 196.6 C1199.5 190 1198.5 190.1 1194.6 185.6 C1190.7 181.1 1190.8 182.8 1189.2 181.5 C1191.2 179.9 1192.9 181 1196 176.1 C1199.1 171.2 1199.2 171.7 1199.4 165.1 C1199.6 158.6 1199.3 160.4 1196.7 154.2 C1194 148.1 1193.8 149.2 1190.5 144.7 C1187.2 140.2 1187.2 140.8 1185.7 139.2 Z"/>
</g>
<g transform="translate(1848.5 921.4) scale(0.9693 0.977) translate(-1184.5 0)">
<path d="M1266.5 352.6 L1386.4 302.4 Q1399 297 1404.5 308 L1456.8 420.6 H1292.6 L1262.5 360 Q1260 355.5 1266.5 352.6 Z" fill="#808080"/>
<path d="M1342.1 104 C1342.9 101.5 1341.5 99.2 1344.8 95.5 C1348.1 91.8 1347.7 92.3 1353 91.7 C1358.3 91.1 1358.5 90.7 1362.6 93.5 C1366.7 96.3 1365.1 94.7 1366.7 101 C1368.3 107.3 1366.8 103.9 1368 114.6 C1369.2 125.2 1368.3 121.7 1370.8 136.5 C1373.3 151.3 1372.5 148.2 1376.2 163.8 C1379.9 179.4 1380.2 176.9 1383.1 188.4 C1386 199.9 1385.4 193.4 1385.8 202 C1386.2 210.6 1386.9 205.1 1384.4 217 C1381.9 228.9 1381.3 226.4 1377.6 241.6 C1373.9 256.8 1373.9 253.5 1372.1 267.6 C1370.3 281.7 1371.7 282.2 1371.5 288.5 L1369 290 L1300 310 L1300 104 Z" fill="#fff"/>
<path class="nv" style="stroke-width:3.6" d="M1342.1 104 C1342.9 101.5 1341.5 99.2 1344.8 95.5 C1348.1 91.8 1347.7 92.3 1353 91.7 C1358.3 91.1 1358.5 90.7 1362.6 93.5 C1366.7 96.3 1365.1 94.7 1366.7 101 C1368.3 107.3 1366.8 103.9 1368 114.6 C1369.2 125.2 1368.3 121.7 1370.8 136.5 C1373.3 151.3 1372.5 148.2 1376.2 163.8 C1379.9 179.4 1380.2 176.9 1383.1 188.4 C1386 199.9 1385.4 193.4 1385.8 202 C1386.2 210.6 1386.9 205.1 1384.4 217 C1381.9 228.9 1381.3 226.4 1377.6 241.6 C1373.9 256.8 1373.9 253.5 1372.1 267.6 C1370.3 281.7 1371.7 282.2 1371.5 288.5"/>
<path d="M1262.3 312.7 L1369.5 289.5 Q1381 285.5 1385.8 294 Q1387.5 297.5 1387.6 302 L1270 352.5 Q1266 346 1266.1 341 Q1266.3 334 1271.3 328.3 Z" fill="#fff"/>
<path d="M1225 281 L1262.3 312.7 Q1280.2 303.8 1302.5 297.5 L1324.8 293.9 Q1338 291.5 1342 279 L1344 268.9 L1340 262 H1300 Z" fill="#003B71"/>
<g class="nv" style="stroke-width:3.1">
<path d="M1262.3 312.7 L1271.3 328.3 L1369.5 289.5 Q1380.5 285.8 1385.2 293.5 Q1387.2 297 1387.4 301.5"/>
<path d="M1271.3 328.3 Q1266.3 334 1266.1 341.5 Q1266 346.5 1268.6 351"/>
</g>
<rect x="1184.5" y="-0.4" width="156.2" height="282.6" rx="15" fill="#1E6CFF"/>
<rect x="1187.8" y="16.9" width="149.5" height="248" rx="5" fill="#EBEBEB"/>
<rect x="1245.4" y="6.3" width="34.4" height="5.4" rx="2.7" fill="#fff"/>
<circle cx="1239.5" cy="9" r="2.1" fill="#fff"/><circle cx="1286.1" cy="9" r="2.1" fill="#fff"/>
<rect x="1245.4" y="269.3" width="34.4" height="9.7" rx="3" fill="#fff"/>
<path class="nv" style="stroke-width:3.9" d="M1342.05 103 V268 Q1342 280 1334 286"/>
<path d="M1208.8 72.1 V52.4 H1228.5 M1295 52.4 H1314.7 V72.1 M1208.8 138.8 V158.5 H1228.5 M1295 158.5 H1314.7 V138.8" fill="none" stroke="#003B71" stroke-width="2"/>
<path d="M1252.6 68.6h3.7v3.7h-3.7zM1256.2 68.6h3.7v3.7h-3.7zM1263.4 68.6h3.7v3.7h-3.7zM1252.6 72.2h3.7v3.7h-3.7zM1256.2 72.2h3.7v3.7h-3.7zM1263.4 72.2h3.7v3.7h-3.7zM1252.6 75.8h3.7v3.7h-3.7zM1256.2 75.8h3.7v3.7h-3.7zM1267 75.8h3.7v3.7h-3.7zM1252.6 79.3h3.7v3.7h-3.7zM1267 79.3h3.7v3.7h-3.7zM1256.2 82.9h3.7v3.7h-3.7zM1263.4 82.9h3.7v3.7h-3.7zM1267 82.9h3.7v3.7h-3.7zM1252.6 86.5h3.7v3.7h-3.7zM1256.2 86.5h3.7v3.7h-3.7zM1263.4 86.5h3.7v3.7h-3.7zM1256.2 90.1h3.7v3.7h-3.7zM1263.4 90.1h3.7v3.7h-3.7zM1267 90.1h3.7v3.7h-3.7zM1252.6 93.7h3.7v3.7h-3.7zM1263.4 93.7h3.7v3.7h-3.7zM1227.6 97.2h3.7v3.7h-3.7zM1238.3 97.2h3.7v3.7h-3.7zM1256.2 97.2h3.7v3.7h-3.7zM1263.4 97.2h3.7v3.7h-3.7zM1274.1 97.2h3.7v3.7h-3.7zM1281.3 97.2h3.7v3.7h-3.7zM1224 100.8h3.7v3.7h-3.7zM1256.2 100.8h3.7v3.7h-3.7zM1274.1 100.8h3.7v3.7h-3.7zM1277.7 100.8h3.7v3.7h-3.7zM1284.9 100.8h3.7v3.7h-3.7zM1292 100.8h3.7v3.7h-3.7zM1295.6 100.8h3.7v3.7h-3.7zM1224 104.4h3.7v3.7h-3.7zM1231.2 104.4h3.7v3.7h-3.7zM1234.7 104.4h3.7v3.7h-3.7zM1238.3 104.4h3.7v3.7h-3.7zM1245.5 104.4h3.7v3.7h-3.7zM1267 104.4h3.7v3.7h-3.7zM1274.1 104.4h3.7v3.7h-3.7zM1284.9 104.4h3.7v3.7h-3.7zM1288.5 104.4h3.7v3.7h-3.7zM1292 104.4h3.7v3.7h-3.7zM1295.6 104.4h3.7v3.7h-3.7zM1231.2 108h3.7v3.7h-3.7zM1234.7 108h3.7v3.7h-3.7zM1241.9 108h3.7v3.7h-3.7zM1267 108h3.7v3.7h-3.7zM1284.9 108h3.7v3.7h-3.7zM1288.5 108h3.7v3.7h-3.7zM1292 108h3.7v3.7h-3.7zM1224 111.6h3.7v3.7h-3.7zM1227.6 111.6h3.7v3.7h-3.7zM1231.2 111.6h3.7v3.7h-3.7zM1234.7 111.6h3.7v3.7h-3.7zM1238.3 111.6h3.7v3.7h-3.7zM1241.9 111.6h3.7v3.7h-3.7zM1245.5 111.6h3.7v3.7h-3.7zM1249.1 111.6h3.7v3.7h-3.7zM1252.6 111.6h3.7v3.7h-3.7zM1256.2 111.6h3.7v3.7h-3.7zM1259.8 111.6h3.7v3.7h-3.7zM1270.6 111.6h3.7v3.7h-3.7zM1274.1 111.6h3.7v3.7h-3.7zM1277.7 111.6h3.7v3.7h-3.7zM1281.3 111.6h3.7v3.7h-3.7zM1284.9 111.6h3.7v3.7h-3.7zM1256.2 115.2h3.7v3.7h-3.7zM1259.8 115.2h3.7v3.7h-3.7zM1263.4 115.2h3.7v3.7h-3.7zM1267 115.2h3.7v3.7h-3.7zM1274.1 115.2h3.7v3.7h-3.7zM1277.7 115.2h3.7v3.7h-3.7zM1288.5 115.2h3.7v3.7h-3.7zM1295.6 115.2h3.7v3.7h-3.7zM1267 118.7h3.7v3.7h-3.7zM1270.6 118.7h3.7v3.7h-3.7zM1274.1 118.7h3.7v3.7h-3.7zM1288.5 118.7h3.7v3.7h-3.7zM1292 118.7h3.7v3.7h-3.7zM1270.6 122.3h3.7v3.7h-3.7zM1277.7 122.3h3.7v3.7h-3.7zM1281.3 122.3h3.7v3.7h-3.7zM1284.9 122.3h3.7v3.7h-3.7zM1288.5 122.3h3.7v3.7h-3.7zM1292 122.3h3.7v3.7h-3.7zM1270.6 125.9h3.7v3.7h-3.7zM1274.1 125.9h3.7v3.7h-3.7zM1277.7 125.9h3.7v3.7h-3.7zM1281.3 125.9h3.7v3.7h-3.7zM1284.9 125.9h3.7v3.7h-3.7zM1263.4 129.5h3.7v3.7h-3.7zM1284.9 129.5h3.7v3.7h-3.7zM1292 129.5h3.7v3.7h-3.7zM1256.2 133.1h3.7v3.7h-3.7zM1270.6 133.1h3.7v3.7h-3.7zM1274.1 133.1h3.7v3.7h-3.7zM1277.7 133.1h3.7v3.7h-3.7zM1288.5 133.1h3.7v3.7h-3.7zM1256.2 136.6h3.7v3.7h-3.7zM1263.4 136.6h3.7v3.7h-3.7zM1267 136.6h3.7v3.7h-3.7zM1295.6 136.6h3.7v3.7h-3.7zM1252.6 140.2h3.7v3.7h-3.7zM1256.2 140.2h3.7v3.7h-3.7zM1259.8 140.2h3.7v3.7h-3.7zM1267 140.2h3.7v3.7h-3.7zM1274.1 140.2h3.7v3.7h-3.7zM1281.3 140.2h3.7v3.7h-3.7z" fill="#003B71"/>
<rect x="1225.8" y="70.4" width="21.5" height="21.5" fill="none" stroke="#003B71" stroke-width="3.6"/>
<rect x="1231.2" y="75.8" width="10.7" height="10.7" fill="#003B71"/>
<rect x="1275.9" y="70.4" width="21.5" height="21.5" fill="none" stroke="#003B71" stroke-width="3.6"/>
<rect x="1281.3" y="75.8" width="10.7" height="10.7" fill="#003B71"/>
<rect x="1225.8" y="120.5" width="21.5" height="21.5" fill="none" stroke="#003B71" stroke-width="3.6"/>
<rect x="1231.2" y="125.9" width="10.7" height="10.7" fill="#003B71"/>
<circle cx="1262.8" cy="207.7" r="33.5" fill="#00DC64"/><path d="M1246 208.5 L1258.4 219.9 L1281.2 195.3" fill="none" stroke="#fff" stroke-width="7.3"/>
<path d="M1185.7 78.4 C1183.9 77.8 1184.3 77.2 1179.6 76.4 C1174.9 75.6 1175 74.1 1170 75.7 C1165.1 77.3 1165.7 77.1 1163.2 81.8 C1160.8 86.6 1160.6 85.3 1161.8 91.4 C1163.1 97.6 1163.2 95.8 1167.3 102.3 C1171.4 108.9 1170.4 107.9 1175.5 113.3 C1180.6 118.6 1181.7 118 1184.4 120.1 C1181.7 120.9 1181.9 119.9 1175.5 122.8 C1169.2 125.7 1168.9 124.3 1163.2 129.6 C1157.5 135 1158.6 134 1156.4 140.6 C1154.1 147.1 1154.5 144.5 1155.7 151.5 C1156.9 158.5 1157 158 1160.5 163.8 C1164 169.5 1165.3 168.6 1167.3 170.6 C1165.3 171.4 1163.8 170.5 1160.5 173.3 C1157.2 176.2 1157.8 175.3 1156.4 180.2 C1155 185.1 1154.5 183.2 1155.7 189.7 C1156.9 196.3 1157 196.5 1160.5 202 C1164 207.5 1165.3 206.3 1167.3 208.2 C1165.3 209.6 1163.1 209.1 1160.5 212.9 C1157.8 216.8 1157.6 215.4 1158.4 221.1 C1159.3 226.9 1158.5 226.3 1163.2 232.1 C1167.9 237.8 1167.2 236.8 1174.1 240.3 C1181.1 243.7 1180.3 243.5 1186.4 243.7 C1192.6 243.9 1191.8 244.4 1194.6 240.9 C1197.5 237.5 1195.8 238 1196 232.1 C1196.2 226.1 1195.5 224.4 1195.3 221.1 C1196.7 219.5 1197.6 219.8 1200.1 215.7 C1202.5 211.6 1202.9 213.2 1203.5 207.5 C1204.1 201.7 1204.8 203.1 1202.1 196.6 C1199.5 190 1198.5 190.1 1194.6 185.6 C1190.7 181.1 1190.8 182.8 1189.2 181.5 C1191.2 179.9 1192.9 181 1196 176.1 C1199.1 171.2 1199.2 171.7 1199.4 165.1 C1199.6 158.6 1199.3 160.4 1196.7 154.2 C1194 148.1 1193.8 149.2 1190.5 144.7 C1187.2 140.2 1187.2 140.8 1185.7 139.2 Z" fill="#00ADEF" transform="translate(2.6 3.2)"/>
<path d="M1185.7 78.4 C1183.9 77.8 1184.3 77.2 1179.6 76.4 C1174.9 75.6 1175 74.1 1170 75.7 C1165.1 77.3 1165.7 77.1 1163.2 81.8 C1160.8 86.6 1160.6 85.3 1161.8 91.4 C1163.1 97.6 1163.2 95.8 1167.3 102.3 C1171.4 108.9 1170.4 107.9 1175.5 113.3 C1180.6 118.6 1181.7 118 1184.4 120.1 C1181.7 120.9 1181.9 119.9 1175.5 122.8 C1169.2 125.7 1168.9 124.3 1163.2 129.6 C1157.5 135 1158.6 134 1156.4 140.6 C1154.1 147.1 1154.5 144.5 1155.7 151.5 C1156.9 158.5 1157 158 1160.5 163.8 C1164 169.5 1165.3 168.6 1167.3 170.6 C1165.3 171.4 1163.8 170.5 1160.5 173.3 C1157.2 176.2 1157.8 175.3 1156.4 180.2 C1155 185.1 1154.5 183.2 1155.7 189.7 C1156.9 196.3 1157 196.5 1160.5 202 C1164 207.5 1165.3 206.3 1167.3 208.2 C1165.3 209.6 1163.1 209.1 1160.5 212.9 C1157.8 216.8 1157.6 215.4 1158.4 221.1 C1159.3 226.9 1158.5 226.3 1163.2 232.1 C1167.9 237.8 1167.2 236.8 1174.1 240.3 C1181.1 243.7 1180.3 243.5 1186.4 243.7 C1192.6 243.9 1191.8 244.4 1194.6 240.9 C1197.5 237.5 1195.8 238 1196 232.1 C1196.2 226.1 1195.5 224.4 1195.3 221.1 C1196.7 219.5 1197.6 219.8 1200.1 215.7 C1202.5 211.6 1202.9 213.2 1203.5 207.5 C1204.1 201.7 1204.8 203.1 1202.1 196.6 C1199.5 190 1198.5 190.1 1194.6 185.6 C1190.7 181.1 1190.8 182.8 1189.2 181.5 C1191.2 179.9 1192.9 181 1196 176.1 C1199.1 171.2 1199.2 171.7 1199.4 165.1 C1199.6 158.6 1199.3 160.4 1196.7 154.2 C1194 148.1 1193.8 149.2 1190.5 144.7 C1187.2 140.2 1187.2 140.8 1185.7 139.2 Z" fill="#fff"/>
<path class="nv" style="stroke-width:3.6" d="M1185.7 78.4 C1183.9 77.8 1184.3 77.2 1179.6 76.4 C1174.9 75.6 1175 74.1 1170 75.7 C1165.1 77.3 1165.7 77.1 1163.2 81.8 C1160.8 86.6 1160.6 85.3 1161.8 91.4 C1163.1 97.6 1163.2 95.8 1167.3 102.3 C1171.4 108.9 1170.4 107.9 1175.5 113.3 C1180.6 118.6 1181.7 118 1184.4 120.1 C1181.7 120.9 1181.9 119.9 1175.5 122.8 C1169.2 125.7 1168.9 124.3 1163.2 129.6 C1157.5 135 1158.6 134 1156.4 140.6 C1154.1 147.1 1154.5 144.5 1155.7 151.5 C1156.9 158.5 1157 158 1160.5 163.8 C1164 169.5 1165.3 168.6 1167.3 170.6 C1165.3 171.4 1163.8 170.5 1160.5 173.3 C1157.2 176.2 1157.8 175.3 1156.4 180.2 C1155 185.1 1154.5 183.2 1155.7 189.7 C1156.9 196.3 1157 196.5 1160.5 202 C1164 207.5 1165.3 206.3 1167.3 208.2 C1165.3 209.6 1163.1 209.1 1160.5 212.9 C1157.8 216.8 1157.6 215.4 1158.4 221.1 C1159.3 226.9 1158.5 226.3 1163.2 232.1 C1167.9 237.8 1167.2 236.8 1174.1 240.3 C1181.1 243.7 1180.3 243.5 1186.4 243.7 C1192.6 243.9 1191.8 244.4 1194.6 240.9 C1197.5 237.5 1195.8 238 1196 232.1 C1196.2 226.1 1195.5 224.4 1195.3 221.1 C1196.7 219.5 1197.6 219.8 1200.1 215.7 C1202.5 211.6 1202.9 213.2 1203.5 207.5 C1204.1 201.7 1204.8 203.1 1202.1 196.6 C1199.5 190 1198.5 190.1 1194.6 185.6 C1190.7 181.1 1190.8 182.8 1189.2 181.5 C1191.2 179.9 1192.9 181 1196 176.1 C1199.1 171.2 1199.2 171.7 1199.4 165.1 C1199.6 158.6 1199.3 160.4 1196.7 154.2 C1194 148.1 1193.8 149.2 1190.5 144.7 C1187.2 140.2 1187.2 140.8 1185.7 139.2 Z"/>
</g>
<g transform="translate(1145.6 1609.8) scale(0.9285 0.9367) translate(-1184.5 0)">
<path d="M1266.5 352.6 L1386.4 302.4 Q1399 297 1404.5 308 L1456.8 420.6 H1292.6 L1262.5 360 Q1260 355.5 1266.5 352.6 Z" fill="#72C4E8"/>
<path d="M1342.1 104 C1342.9 101.5 1341.5 99.2 1344.8 95.5 C1348.1 91.8 1347.7 92.3 1353 91.7 C1358.3 91.1 1358.5 90.7 1362.6 93.5 C1366.7 96.3 1365.1 94.7 1366.7 101 C1368.3 107.3 1366.8 103.9 1368 114.6 C1369.2 125.2 1368.3 121.7 1370.8 136.5 C1373.3 151.3 1372.5 148.2 1376.2 163.8 C1379.9 179.4 1380.2 176.9 1383.1 188.4 C1386 199.9 1385.4 193.4 1385.8 202 C1386.2 210.6 1386.9 205.1 1384.4 217 C1381.9 228.9 1381.3 226.4 1377.6 241.6 C1373.9 256.8 1373.9 253.5 1372.1 267.6 C1370.3 281.7 1371.7 282.2 1371.5 288.5 L1369 290 L1300 310 L1300 104 Z" fill="#fff"/>
<path class="nv" style="stroke-width:3.6" d="M1342.1 104 C1342.9 101.5 1341.5 99.2 1344.8 95.5 C1348.1 91.8 1347.7 92.3 1353 91.7 C1358.3 91.1 1358.5 90.7 1362.6 93.5 C1366.7 96.3 1365.1 94.7 1366.7 101 C1368.3 107.3 1366.8 103.9 1368 114.6 C1369.2 125.2 1368.3 121.7 1370.8 136.5 C1373.3 151.3 1372.5 148.2 1376.2 163.8 C1379.9 179.4 1380.2 176.9 1383.1 188.4 C1386 199.9 1385.4 193.4 1385.8 202 C1386.2 210.6 1386.9 205.1 1384.4 217 C1381.9 228.9 1381.3 226.4 1377.6 241.6 C1373.9 256.8 1373.9 253.5 1372.1 267.6 C1370.3 281.7 1371.7 282.2 1371.5 288.5"/>
<path d="M1262.3 312.7 L1369.5 289.5 Q1381 285.5 1385.8 294 Q1387.5 297.5 1387.6 302 L1270 352.5 Q1266 346 1266.1 341 Q1266.3 334 1271.3 328.3 Z" fill="#fff"/>
<path d="M1225 281 L1262.3 312.7 Q1280.2 303.8 1302.5 297.5 L1324.8 293.9 Q1338 291.5 1342 279 L1344 268.9 L1340 262 H1300 Z" fill="#003B71"/>
<g class="nv" style="stroke-width:3.1">
<path d="M1262.3 312.7 L1271.3 328.3 L1369.5 289.5 Q1380.5 285.8 1385.2 293.5 Q1387.2 297 1387.4 301.5"/>
<path d="M1271.3 328.3 Q1266.3 334 1266.1 341.5 Q1266 346.5 1268.6 351"/>
</g>
<rect x="1184.5" y="-0.4" width="156.2" height="282.6" rx="15" fill="#1E6CFF"/>
<rect x="1187.8" y="16.9" width="149.5" height="248" rx="5" fill="#EBEBEB"/>
<rect x="1245.4" y="6.3" width="34.4" height="5.4" rx="2.7" fill="#fff"/>
<circle cx="1239.5" cy="9" r="2.1" fill="#fff"/><circle cx="1286.1" cy="9" r="2.1" fill="#fff"/>
<rect x="1245.4" y="269.3" width="34.4" height="9.7" rx="3" fill="#fff"/>
<path class="nv" style="stroke-width:3.9" d="M1342.05 103 V268 Q1342 280 1334 286"/>
<g fill="none" stroke="#00DC64" stroke-width="7.6" stroke-linecap="round">
<circle cx="1232.9" cy="69.4" r="13.9"/><circle cx="1286.1" cy="122.8" r="13.9"/>
<path d="M1223.4 132.2 L1296.3 58.8"/>
</g>
<text x="1262.2" y="190.4" text-anchor="middle" font-size="33.5" font-weight="bold" fill="#003B71" textLength="59" lengthAdjust="spacingAndGlyphs">Fan</text>
<text x="1262.2" y="224.4" text-anchor="middle" font-size="33.5" font-weight="bold" fill="#003B71" textLength="90.5" lengthAdjust="spacingAndGlyphs">Store</text>
<path d="M1185.7 78.4 C1183.9 77.8 1184.3 77.2 1179.6 76.4 C1174.9 75.6 1175 74.1 1170 75.7 C1165.1 77.3 1165.7 77.1 1163.2 81.8 C1160.8 86.6 1160.6 85.3 1161.8 91.4 C1163.1 97.6 1163.2 95.8 1167.3 102.3 C1171.4 108.9 1170.4 107.9 1175.5 113.3 C1180.6 118.6 1181.7 118 1184.4 120.1 C1181.7 120.9 1181.9 119.9 1175.5 122.8 C1169.2 125.7 1168.9 124.3 1163.2 129.6 C1157.5 135 1158.6 134 1156.4 140.6 C1154.1 147.1 1154.5 144.5 1155.7 151.5 C1156.9 158.5 1157 158 1160.5 163.8 C1164 169.5 1165.3 168.6 1167.3 170.6 C1165.3 171.4 1163.8 170.5 1160.5 173.3 C1157.2 176.2 1157.8 175.3 1156.4 180.2 C1155 185.1 1154.5 183.2 1155.7 189.7 C1156.9 196.3 1157 196.5 1160.5 202 C1164 207.5 1165.3 206.3 1167.3 208.2 C1165.3 209.6 1163.1 209.1 1160.5 212.9 C1157.8 216.8 1157.6 215.4 1158.4 221.1 C1159.3 226.9 1158.5 226.3 1163.2 232.1 C1167.9 237.8 1167.2 236.8 1174.1 240.3 C1181.1 243.7 1180.3 243.5 1186.4 243.7 C1192.6 243.9 1191.8 244.4 1194.6 240.9 C1197.5 237.5 1195.8 238 1196 232.1 C1196.2 226.1 1195.5 224.4 1195.3 221.1 C1196.7 219.5 1197.6 219.8 1200.1 215.7 C1202.5 211.6 1202.9 213.2 1203.5 207.5 C1204.1 201.7 1204.8 203.1 1202.1 196.6 C1199.5 190 1198.5 190.1 1194.6 185.6 C1190.7 181.1 1190.8 182.8 1189.2 181.5 C1191.2 179.9 1192.9 181 1196 176.1 C1199.1 171.2 1199.2 171.7 1199.4 165.1 C1199.6 158.6 1199.3 160.4 1196.7 154.2 C1194 148.1 1193.8 149.2 1190.5 144.7 C1187.2 140.2 1187.2 140.8 1185.7 139.2 Z" fill="#00ADEF" transform="translate(2.6 3.2)"/>
<path d="M1185.7 78.4 C1183.9 77.8 1184.3 77.2 1179.6 76.4 C1174.9 75.6 1175 74.1 1170 75.7 C1165.1 77.3 1165.7 77.1 1163.2 81.8 C1160.8 86.6 1160.6 85.3 1161.8 91.4 C1163.1 97.6 1163.2 95.8 1167.3 102.3 C1171.4 108.9 1170.4 107.9 1175.5 113.3 C1180.6 118.6 1181.7 118 1184.4 120.1 C1181.7 120.9 1181.9 119.9 1175.5 122.8 C1169.2 125.7 1168.9 124.3 1163.2 129.6 C1157.5 135 1158.6 134 1156.4 140.6 C1154.1 147.1 1154.5 144.5 1155.7 151.5 C1156.9 158.5 1157 158 1160.5 163.8 C1164 169.5 1165.3 168.6 1167.3 170.6 C1165.3 171.4 1163.8 170.5 1160.5 173.3 C1157.2 176.2 1157.8 175.3 1156.4 180.2 C1155 185.1 1154.5 183.2 1155.7 189.7 C1156.9 196.3 1157 196.5 1160.5 202 C1164 207.5 1165.3 206.3 1167.3 208.2 C1165.3 209.6 1163.1 209.1 1160.5 212.9 C1157.8 216.8 1157.6 215.4 1158.4 221.1 C1159.3 226.9 1158.5 226.3 1163.2 232.1 C1167.9 237.8 1167.2 236.8 1174.1 240.3 C1181.1 243.7 1180.3 243.5 1186.4 243.7 C1192.6 243.9 1191.8 244.4 1194.6 240.9 C1197.5 237.5 1195.8 238 1196 232.1 C1196.2 226.1 1195.5 224.4 1195.3 221.1 C1196.7 219.5 1197.6 219.8 1200.1 215.7 C1202.5 211.6 1202.9 213.2 1203.5 207.5 C1204.1 201.7 1204.8 203.1 1202.1 196.6 C1199.5 190 1198.5 190.1 1194.6 185.6 C1190.7 181.1 1190.8 182.8 1189.2 181.5 C1191.2 179.9 1192.9 181 1196 176.1 C1199.1 171.2 1199.2 171.7 1199.4 165.1 C1199.6 158.6 1199.3 160.4 1196.7 154.2 C1194 148.1 1193.8 149.2 1190.5 144.7 C1187.2 140.2 1187.2 140.8 1185.7 139.2 Z" fill="#fff"/>
<path class="nv" style="stroke-width:3.6" d="M1185.7 78.4 C1183.9 77.8 1184.3 77.2 1179.6 76.4 C1174.9 75.6 1175 74.1 1170 75.7 C1165.1 77.3 1165.7 77.1 1163.2 81.8 C1160.8 86.6 1160.6 85.3 1161.8 91.4 C1163.1 97.6 1163.2 95.8 1167.3 102.3 C1171.4 108.9 1170.4 107.9 1175.5 113.3 C1180.6 118.6 1181.7 118 1184.4 120.1 C1181.7 120.9 1181.9 119.9 1175.5 122.8 C1169.2 125.7 1168.9 124.3 1163.2 129.6 C1157.5 135 1158.6 134 1156.4 140.6 C1154.1 147.1 1154.5 144.5 1155.7 151.5 C1156.9 158.5 1157 158 1160.5 163.8 C1164 169.5 1165.3 168.6 1167.3 170.6 C1165.3 171.4 1163.8 170.5 1160.5 173.3 C1157.2 176.2 1157.8 175.3 1156.4 180.2 C1155 185.1 1154.5 183.2 1155.7 189.7 C1156.9 196.3 1157 196.5 1160.5 202 C1164 207.5 1165.3 206.3 1167.3 208.2 C1165.3 209.6 1163.1 209.1 1160.5 212.9 C1157.8 216.8 1157.6 215.4 1158.4 221.1 C1159.3 226.9 1158.5 226.3 1163.2 232.1 C1167.9 237.8 1167.2 236.8 1174.1 240.3 C1181.1 243.7 1180.3 243.5 1186.4 243.7 C1192.6 243.9 1191.8 244.4 1194.6 240.9 C1197.5 237.5 1195.8 238 1196 232.1 C1196.2 226.1 1195.5 224.4 1195.3 221.1 C1196.7 219.5 1197.6 219.8 1200.1 215.7 C1202.5 211.6 1202.9 213.2 1203.5 207.5 C1204.1 201.7 1204.8 203.1 1202.1 196.6 C1199.5 190 1198.5 190.1 1194.6 185.6 C1190.7 181.1 1190.8 182.8 1189.2 181.5 C1191.2 179.9 1192.9 181 1196 176.1 C1199.1 171.2 1199.2 171.7 1199.4 165.1 C1199.6 158.6 1199.3 160.4 1196.7 154.2 C1194 148.1 1193.8 149.2 1190.5 144.7 C1187.2 140.2 1187.2 140.8 1185.7 139.2 Z"/>
</g>
</svg>
</body></html>
